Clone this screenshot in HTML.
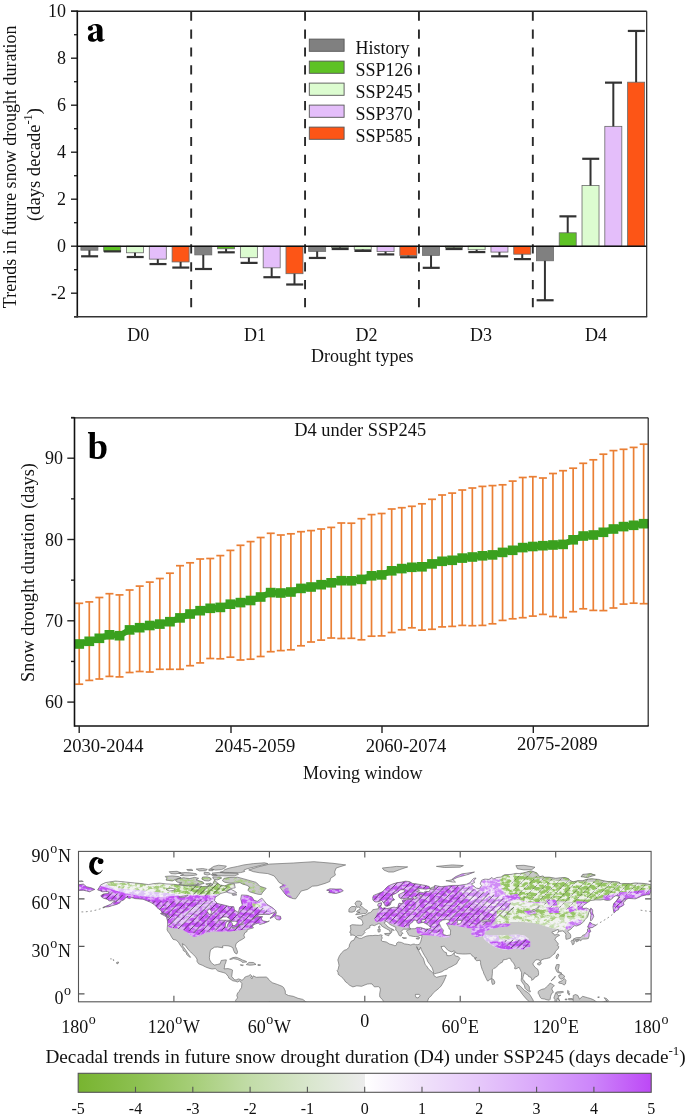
<!DOCTYPE html>
<html><head><meta charset="utf-8"><style>
html,body{margin:0;padding:0;background:#fff;}
svg{display:block;will-change:transform;}
text{font-family:"Liberation Serif", serif;fill:#111;}
.t18{font-size:18px;}
.t17{font-size:18.4px;}
.t19{font-size:19.2px;}
.t16{font-size:16px;}
.lbl{font-size:37px;font-weight:bold;fill:#000;}
.ax{stroke:#222;stroke-width:1.4;}
</style></head><body>
<svg width="685" height="1117" viewBox="0 0 685 1117">
<rect width="685" height="1117" fill="#fff"/>
<g id="pa">
<line x1="74" y1="316.70" x2="77.3" y2="316.70" class="ax"/>
<line x1="71" y1="293.20" x2="77.3" y2="293.20" class="ax"/>
<text x="66" y="299.40" text-anchor="end" class="t18">-2</text>
<line x1="74" y1="269.70" x2="77.3" y2="269.70" class="ax"/>
<line x1="71" y1="246.20" x2="77.3" y2="246.20" class="ax"/>
<text x="66" y="252.40" text-anchor="end" class="t18">0</text>
<line x1="74" y1="222.70" x2="77.3" y2="222.70" class="ax"/>
<line x1="71" y1="199.20" x2="77.3" y2="199.20" class="ax"/>
<text x="66" y="205.40" text-anchor="end" class="t18">2</text>
<line x1="74" y1="175.70" x2="77.3" y2="175.70" class="ax"/>
<line x1="71" y1="152.20" x2="77.3" y2="152.20" class="ax"/>
<text x="66" y="158.40" text-anchor="end" class="t18">4</text>
<line x1="74" y1="128.70" x2="77.3" y2="128.70" class="ax"/>
<line x1="71" y1="105.20" x2="77.3" y2="105.20" class="ax"/>
<text x="66" y="111.40" text-anchor="end" class="t18">6</text>
<line x1="74" y1="81.70" x2="77.3" y2="81.70" class="ax"/>
<line x1="71" y1="58.20" x2="77.3" y2="58.20" class="ax"/>
<text x="66" y="64.40" text-anchor="end" class="t18">8</text>
<line x1="74" y1="34.70" x2="77.3" y2="34.70" class="ax"/>
<line x1="71" y1="11.20" x2="77.3" y2="11.20" class="ax"/>
<text x="66" y="17.40" text-anchor="end" class="t18">10</text>
<line x1="191.18" y1="11.60" x2="191.18" y2="316.8" stroke="#2a2a2a" stroke-width="1.9" stroke-dasharray="9.2 8.7"/>
<line x1="305.06" y1="11.60" x2="305.06" y2="316.8" stroke="#2a2a2a" stroke-width="1.9" stroke-dasharray="9.2 8.7"/>
<line x1="418.94" y1="11.60" x2="418.94" y2="316.8" stroke="#2a2a2a" stroke-width="1.9" stroke-dasharray="9.2 8.7"/>
<line x1="532.82" y1="11.60" x2="532.82" y2="316.8" stroke="#2a2a2a" stroke-width="1.9" stroke-dasharray="9.2 8.7"/>
<rect x="80.90" y="246.20" width="17.0" height="4.00" fill="#808080" stroke="#6a6a6a" stroke-width="0.8"/>
<line x1="89.40" y1="250.19" x2="89.40" y2="256.31" stroke="#333" stroke-width="2"/>
<line x1="81.10" y1="256.31" x2="98.10" y2="256.31" stroke="#333" stroke-width="2.2"/>
<rect x="103.70" y="246.20" width="17.0" height="5.17" fill="#5ec225" stroke="#6a6a6a" stroke-width="0.8"/>
<line x1="112.20" y1="251.37" x2="112.20" y2="251.37" stroke="#333" stroke-width="2"/>
<line x1="103.90" y1="251.37" x2="120.90" y2="251.37" stroke="#333" stroke-width="2.2"/>
<rect x="126.50" y="246.20" width="17.0" height="6.58" fill="#dcfcd0" stroke="#6a6a6a" stroke-width="0.8"/>
<line x1="135.00" y1="252.78" x2="135.00" y2="257.01" stroke="#333" stroke-width="2"/>
<line x1="126.70" y1="257.01" x2="143.70" y2="257.01" stroke="#333" stroke-width="2.2"/>
<rect x="149.30" y="246.20" width="17.0" height="12.93" fill="#e4befa" stroke="#6a6a6a" stroke-width="0.8"/>
<line x1="157.80" y1="259.12" x2="157.80" y2="264.06" stroke="#333" stroke-width="2"/>
<line x1="149.50" y1="264.06" x2="166.50" y2="264.06" stroke="#333" stroke-width="2.2"/>
<rect x="172.10" y="246.20" width="17.0" height="15.75" fill="#fd5516" stroke="#6a6a6a" stroke-width="0.8"/>
<line x1="180.60" y1="261.94" x2="180.60" y2="267.58" stroke="#333" stroke-width="2"/>
<line x1="172.30" y1="267.58" x2="189.30" y2="267.58" stroke="#333" stroke-width="2.2"/>
<rect x="194.78" y="246.20" width="17.0" height="8.69" fill="#808080" stroke="#6a6a6a" stroke-width="0.8"/>
<line x1="203.28" y1="254.89" x2="203.28" y2="269.00" stroke="#333" stroke-width="2"/>
<line x1="194.98" y1="269.00" x2="211.98" y2="269.00" stroke="#333" stroke-width="2.2"/>
<rect x="217.58" y="246.20" width="17.0" height="2.59" fill="#5ec225" stroke="#6a6a6a" stroke-width="0.8"/>
<line x1="226.08" y1="248.78" x2="226.08" y2="252.31" stroke="#333" stroke-width="2"/>
<line x1="217.78" y1="252.31" x2="234.78" y2="252.31" stroke="#333" stroke-width="2.2"/>
<rect x="240.38" y="246.20" width="17.0" height="11.51" fill="#dcfcd0" stroke="#6a6a6a" stroke-width="0.8"/>
<line x1="248.88" y1="257.71" x2="248.88" y2="262.88" stroke="#333" stroke-width="2"/>
<line x1="240.58" y1="262.88" x2="257.58" y2="262.88" stroke="#333" stroke-width="2.2"/>
<rect x="263.18" y="246.20" width="17.0" height="21.62" fill="#e4befa" stroke="#6a6a6a" stroke-width="0.8"/>
<line x1="271.68" y1="267.82" x2="271.68" y2="277.22" stroke="#333" stroke-width="2"/>
<line x1="263.38" y1="277.22" x2="280.38" y2="277.22" stroke="#333" stroke-width="2.2"/>
<rect x="285.98" y="246.20" width="17.0" height="27.50" fill="#fd5516" stroke="#6a6a6a" stroke-width="0.8"/>
<line x1="294.48" y1="273.69" x2="294.48" y2="284.50" stroke="#333" stroke-width="2"/>
<line x1="286.18" y1="284.50" x2="303.18" y2="284.50" stroke="#333" stroke-width="2.2"/>
<rect x="308.66" y="246.20" width="17.0" height="5.17" fill="#808080" stroke="#6a6a6a" stroke-width="0.8"/>
<line x1="317.16" y1="251.37" x2="317.16" y2="257.95" stroke="#333" stroke-width="2"/>
<line x1="308.86" y1="257.95" x2="325.86" y2="257.95" stroke="#333" stroke-width="2.2"/>
<rect x="331.46" y="246.20" width="17.0" height="1.18" fill="#5ec225" stroke="#6a6a6a" stroke-width="0.8"/>
<line x1="339.96" y1="247.38" x2="339.96" y2="249.02" stroke="#333" stroke-width="2"/>
<line x1="331.66" y1="249.02" x2="348.66" y2="249.02" stroke="#333" stroke-width="2.2"/>
<rect x="354.26" y="246.20" width="17.0" height="3.29" fill="#dcfcd0" stroke="#6a6a6a" stroke-width="0.8"/>
<line x1="362.76" y1="249.49" x2="362.76" y2="250.90" stroke="#333" stroke-width="2"/>
<line x1="354.46" y1="250.90" x2="371.46" y2="250.90" stroke="#333" stroke-width="2.2"/>
<rect x="377.06" y="246.20" width="17.0" height="5.41" fill="#e4befa" stroke="#6a6a6a" stroke-width="0.8"/>
<line x1="385.56" y1="251.60" x2="385.56" y2="254.42" stroke="#333" stroke-width="2"/>
<line x1="377.26" y1="254.42" x2="394.26" y2="254.42" stroke="#333" stroke-width="2.2"/>
<rect x="399.86" y="246.20" width="17.0" height="9.40" fill="#fd5516" stroke="#6a6a6a" stroke-width="0.8"/>
<line x1="408.36" y1="255.60" x2="408.36" y2="257.25" stroke="#333" stroke-width="2"/>
<line x1="400.06" y1="257.25" x2="417.06" y2="257.25" stroke="#333" stroke-width="2.2"/>
<rect x="422.54" y="246.20" width="17.0" height="9.16" fill="#808080" stroke="#6a6a6a" stroke-width="0.8"/>
<line x1="431.04" y1="255.36" x2="431.04" y2="267.82" stroke="#333" stroke-width="2"/>
<line x1="422.74" y1="267.82" x2="439.74" y2="267.82" stroke="#333" stroke-width="2.2"/>
<rect x="445.34" y="246.20" width="17.0" height="1.41" fill="#5ec225" stroke="#6a6a6a" stroke-width="0.8"/>
<line x1="453.84" y1="247.61" x2="453.84" y2="249.02" stroke="#333" stroke-width="2"/>
<line x1="445.54" y1="249.02" x2="462.54" y2="249.02" stroke="#333" stroke-width="2.2"/>
<rect x="468.14" y="246.20" width="17.0" height="3.53" fill="#dcfcd0" stroke="#6a6a6a" stroke-width="0.8"/>
<line x1="476.64" y1="249.72" x2="476.64" y2="252.07" stroke="#333" stroke-width="2"/>
<line x1="468.34" y1="252.07" x2="485.34" y2="252.07" stroke="#333" stroke-width="2.2"/>
<rect x="490.94" y="246.20" width="17.0" height="5.88" fill="#e4befa" stroke="#6a6a6a" stroke-width="0.8"/>
<line x1="499.44" y1="252.07" x2="499.44" y2="256.31" stroke="#333" stroke-width="2"/>
<line x1="491.14" y1="256.31" x2="508.14" y2="256.31" stroke="#333" stroke-width="2.2"/>
<rect x="513.74" y="246.20" width="17.0" height="7.99" fill="#fd5516" stroke="#6a6a6a" stroke-width="0.8"/>
<line x1="522.24" y1="254.19" x2="522.24" y2="259.12" stroke="#333" stroke-width="2"/>
<line x1="513.94" y1="259.12" x2="530.94" y2="259.12" stroke="#333" stroke-width="2.2"/>
<rect x="536.42" y="246.20" width="17.0" height="14.57" fill="#808080" stroke="#6a6a6a" stroke-width="0.8"/>
<line x1="544.92" y1="260.77" x2="544.92" y2="300.25" stroke="#333" stroke-width="2"/>
<line x1="536.62" y1="300.25" x2="553.62" y2="300.25" stroke="#333" stroke-width="2.2"/>
<rect x="559.22" y="232.80" width="17.0" height="13.40" fill="#5ec225" stroke="#6a6a6a" stroke-width="0.8"/>
<line x1="567.72" y1="232.80" x2="567.72" y2="216.35" stroke="#333" stroke-width="2"/>
<line x1="559.42" y1="216.35" x2="576.42" y2="216.35" stroke="#333" stroke-width="2.2"/>
<rect x="582.02" y="185.57" width="17.0" height="60.63" fill="#dcfcd0" stroke="#6a6a6a" stroke-width="0.8"/>
<line x1="590.52" y1="185.57" x2="590.52" y2="158.78" stroke="#333" stroke-width="2"/>
<line x1="582.22" y1="158.78" x2="599.22" y2="158.78" stroke="#333" stroke-width="2.2"/>
<rect x="604.82" y="126.35" width="17.0" height="119.85" fill="#e4befa" stroke="#6a6a6a" stroke-width="0.8"/>
<line x1="613.32" y1="126.35" x2="613.32" y2="82.64" stroke="#333" stroke-width="2"/>
<line x1="605.02" y1="82.64" x2="622.02" y2="82.64" stroke="#333" stroke-width="2.2"/>
<rect x="627.62" y="82.17" width="17.0" height="164.03" fill="#fd5516" stroke="#6a6a6a" stroke-width="0.8"/>
<line x1="636.12" y1="82.17" x2="636.12" y2="30.94" stroke="#333" stroke-width="2"/>
<line x1="627.82" y1="30.94" x2="644.82" y2="30.94" stroke="#333" stroke-width="2.2"/>
<line x1="77.3" y1="246.2" x2="646.7" y2="246.2" stroke="#111" stroke-width="1.6"/>
<line x1="71" y1="11.2" x2="646.7" y2="11.2" stroke="#222" stroke-width="1.4"/>
<line x1="646.7" y1="11.2" x2="646.7" y2="316.8" stroke="#222" stroke-width="1.2"/>
<line x1="77.3" y1="10.6" x2="77.3" y2="317.5" stroke="#111" stroke-width="1.6"/>
<line x1="74" y1="316.8" x2="647.2" y2="316.8" stroke="#333" stroke-width="1.6"/>
<text x="138.3" y="340.6" text-anchor="middle" class="t18">D0</text>
<text x="255" y="340.6" text-anchor="middle" class="t18">D1</text>
<text x="366.5" y="340.6" text-anchor="middle" class="t18">D2</text>
<text x="481" y="340.6" text-anchor="middle" class="t18">D3</text>
<text x="596" y="340.6" text-anchor="middle" class="t18">D4</text>
<text x="362.2" y="362" text-anchor="middle" class="t18">Drought types</text>
<text transform="translate(15.5,166.8) rotate(-90)" text-anchor="middle" class="t18">Trends in future snow drought duration</text>
<text transform="translate(39.8,164.5) rotate(-90)" text-anchor="middle" class="t18" style="font-size:18.6px">(days decade<tspan dy="-7.5" font-size="12.5">-1</tspan><tspan dy="7.5">)</tspan></text>
<path fill-rule="evenodd" fill="#000" d="M90.5,26.0 C91.5,24.6 93.3,23.9 95.5,23.9 C99.8,23.9 102.5,25.6 102.5,29.5 L102.5,38.0 C102.5,39.2 102.9,39.6 103.4,39.6 C103.8,39.6 104.1,39.4 104.4,39.0 L104.8,39.5 C104.0,40.9 102.6,41.7 101.0,41.7 C99.2,41.7 97.8,40.8 97.4,39.4 C96.2,40.9 94.4,41.8 92.4,41.8 C89.7,41.8 87.9,40.1 87.9,37.7 C87.9,35.0 90.0,33.6 93.0,32.6 L96.9,31.2 L96.9,29.2 C96.9,26.6 96.0,25.2 94.4,25.2 C93.3,25.2 92.5,25.6 92.0,26.3 Z M96.9,32.6 L94.6,33.6 C93.4,34.2 92.9,35.3 92.9,36.6 C92.9,38.3 93.8,39.3 95.0,39.3 C95.8,39.3 96.5,38.9 96.9,38.3 Z"/><circle cx="90.4" cy="28.2" r="2.5" fill="#000"/>
<rect x="309.3" y="39.10" width="34.8" height="12.2" fill="#808080" stroke="#555" stroke-width="0.9"/>
<text x="355.5" y="53.50" class="t18">History</text>
<rect x="309.3" y="61.10" width="34.8" height="12.2" fill="#5ec225" stroke="#555" stroke-width="0.9"/>
<text x="355.5" y="75.50" class="t18">SSP126</text>
<rect x="309.3" y="83.10" width="34.8" height="12.2" fill="#dcfcd0" stroke="#555" stroke-width="0.9"/>
<text x="355.5" y="97.50" class="t18">SSP245</text>
<rect x="309.3" y="105.10" width="34.8" height="12.2" fill="#e4befa" stroke="#555" stroke-width="0.9"/>
<text x="355.5" y="119.50" class="t18">SSP370</text>
<rect x="309.3" y="127.10" width="34.8" height="12.2" fill="#fd5516" stroke="#555" stroke-width="0.9"/>
<text x="355.5" y="141.50" class="t18">SSP585</text>
</g>
<g id="pb">
<line x1="67.3" y1="702.10" x2="74.5" y2="702.10" class="ax"/>
<text x="63" y="708.30" text-anchor="end" class="t18">60</text>
<line x1="71" y1="661.45" x2="74.5" y2="661.45" class="ax"/>
<line x1="67.3" y1="620.80" x2="74.5" y2="620.80" class="ax"/>
<text x="63" y="627.00" text-anchor="end" class="t18">70</text>
<line x1="71" y1="580.15" x2="74.5" y2="580.15" class="ax"/>
<line x1="67.3" y1="539.50" x2="74.5" y2="539.50" class="ax"/>
<text x="63" y="545.70" text-anchor="end" class="t18">80</text>
<line x1="71" y1="498.85" x2="74.5" y2="498.85" class="ax"/>
<line x1="67.3" y1="458.20" x2="74.5" y2="458.20" class="ax"/>
<text x="63" y="464.40" text-anchor="end" class="t18">90</text>
<line x1="71" y1="417.55" x2="74.5" y2="417.55" class="ax"/>
<line x1="79.20" y1="603.30" x2="79.20" y2="684.20" stroke="#ea7f34" stroke-width="1.7"/>
<line x1="75.20" y1="603.30" x2="83.20" y2="603.30" stroke="#ea7f34" stroke-width="1.7"/>
<line x1="75.20" y1="684.20" x2="83.20" y2="684.20" stroke="#ea7f34" stroke-width="1.7"/>
<line x1="89.28" y1="601.90" x2="89.28" y2="680.40" stroke="#ea7f34" stroke-width="1.7"/>
<line x1="85.28" y1="601.90" x2="93.28" y2="601.90" stroke="#ea7f34" stroke-width="1.7"/>
<line x1="85.28" y1="680.40" x2="93.28" y2="680.40" stroke="#ea7f34" stroke-width="1.7"/>
<line x1="99.36" y1="597.50" x2="99.36" y2="679.00" stroke="#ea7f34" stroke-width="1.7"/>
<line x1="95.36" y1="597.50" x2="103.36" y2="597.50" stroke="#ea7f34" stroke-width="1.7"/>
<line x1="95.36" y1="679.00" x2="103.36" y2="679.00" stroke="#ea7f34" stroke-width="1.7"/>
<line x1="109.44" y1="593.70" x2="109.44" y2="676.40" stroke="#ea7f34" stroke-width="1.7"/>
<line x1="105.44" y1="593.70" x2="113.44" y2="593.70" stroke="#ea7f34" stroke-width="1.7"/>
<line x1="105.44" y1="676.40" x2="113.44" y2="676.40" stroke="#ea7f34" stroke-width="1.7"/>
<line x1="119.52" y1="594.90" x2="119.52" y2="676.90" stroke="#ea7f34" stroke-width="1.7"/>
<line x1="115.52" y1="594.90" x2="123.52" y2="594.90" stroke="#ea7f34" stroke-width="1.7"/>
<line x1="115.52" y1="676.90" x2="123.52" y2="676.90" stroke="#ea7f34" stroke-width="1.7"/>
<line x1="129.60" y1="590.00" x2="129.60" y2="672.50" stroke="#ea7f34" stroke-width="1.7"/>
<line x1="125.60" y1="590.00" x2="133.60" y2="590.00" stroke="#ea7f34" stroke-width="1.7"/>
<line x1="125.60" y1="672.50" x2="133.60" y2="672.50" stroke="#ea7f34" stroke-width="1.7"/>
<line x1="139.68" y1="586.10" x2="139.68" y2="671.50" stroke="#ea7f34" stroke-width="1.7"/>
<line x1="135.68" y1="586.10" x2="143.68" y2="586.10" stroke="#ea7f34" stroke-width="1.7"/>
<line x1="135.68" y1="671.50" x2="143.68" y2="671.50" stroke="#ea7f34" stroke-width="1.7"/>
<line x1="149.76" y1="582.10" x2="149.76" y2="672.00" stroke="#ea7f34" stroke-width="1.7"/>
<line x1="145.76" y1="582.10" x2="153.76" y2="582.10" stroke="#ea7f34" stroke-width="1.7"/>
<line x1="145.76" y1="672.00" x2="153.76" y2="672.00" stroke="#ea7f34" stroke-width="1.7"/>
<line x1="159.84" y1="578.50" x2="159.84" y2="669.30" stroke="#ea7f34" stroke-width="1.7"/>
<line x1="155.84" y1="578.50" x2="163.84" y2="578.50" stroke="#ea7f34" stroke-width="1.7"/>
<line x1="155.84" y1="669.30" x2="163.84" y2="669.30" stroke="#ea7f34" stroke-width="1.7"/>
<line x1="169.92" y1="573.20" x2="169.92" y2="669.30" stroke="#ea7f34" stroke-width="1.7"/>
<line x1="165.92" y1="573.20" x2="173.92" y2="573.20" stroke="#ea7f34" stroke-width="1.7"/>
<line x1="165.92" y1="669.30" x2="173.92" y2="669.30" stroke="#ea7f34" stroke-width="1.7"/>
<line x1="180.00" y1="565.70" x2="180.00" y2="669.30" stroke="#ea7f34" stroke-width="1.7"/>
<line x1="176.00" y1="565.70" x2="184.00" y2="565.70" stroke="#ea7f34" stroke-width="1.7"/>
<line x1="176.00" y1="669.30" x2="184.00" y2="669.30" stroke="#ea7f34" stroke-width="1.7"/>
<line x1="190.08" y1="562.80" x2="190.08" y2="665.70" stroke="#ea7f34" stroke-width="1.7"/>
<line x1="186.08" y1="562.80" x2="194.08" y2="562.80" stroke="#ea7f34" stroke-width="1.7"/>
<line x1="186.08" y1="665.70" x2="194.08" y2="665.70" stroke="#ea7f34" stroke-width="1.7"/>
<line x1="200.16" y1="559.00" x2="200.16" y2="662.90" stroke="#ea7f34" stroke-width="1.7"/>
<line x1="196.16" y1="559.00" x2="204.16" y2="559.00" stroke="#ea7f34" stroke-width="1.7"/>
<line x1="196.16" y1="662.90" x2="204.16" y2="662.90" stroke="#ea7f34" stroke-width="1.7"/>
<line x1="210.24" y1="558.50" x2="210.24" y2="658.50" stroke="#ea7f34" stroke-width="1.7"/>
<line x1="206.24" y1="558.50" x2="214.24" y2="558.50" stroke="#ea7f34" stroke-width="1.7"/>
<line x1="206.24" y1="658.50" x2="214.24" y2="658.50" stroke="#ea7f34" stroke-width="1.7"/>
<line x1="220.32" y1="555.60" x2="220.32" y2="658.80" stroke="#ea7f34" stroke-width="1.7"/>
<line x1="216.32" y1="555.60" x2="224.32" y2="555.60" stroke="#ea7f34" stroke-width="1.7"/>
<line x1="216.32" y1="658.80" x2="224.32" y2="658.80" stroke="#ea7f34" stroke-width="1.7"/>
<line x1="230.41" y1="550.40" x2="230.41" y2="657.20" stroke="#ea7f34" stroke-width="1.7"/>
<line x1="226.41" y1="550.40" x2="234.41" y2="550.40" stroke="#ea7f34" stroke-width="1.7"/>
<line x1="226.41" y1="657.20" x2="234.41" y2="657.20" stroke="#ea7f34" stroke-width="1.7"/>
<line x1="240.49" y1="545.30" x2="240.49" y2="660.00" stroke="#ea7f34" stroke-width="1.7"/>
<line x1="236.49" y1="545.30" x2="244.49" y2="545.30" stroke="#ea7f34" stroke-width="1.7"/>
<line x1="236.49" y1="660.00" x2="244.49" y2="660.00" stroke="#ea7f34" stroke-width="1.7"/>
<line x1="250.57" y1="541.60" x2="250.57" y2="659.20" stroke="#ea7f34" stroke-width="1.7"/>
<line x1="246.57" y1="541.60" x2="254.57" y2="541.60" stroke="#ea7f34" stroke-width="1.7"/>
<line x1="246.57" y1="659.20" x2="254.57" y2="659.20" stroke="#ea7f34" stroke-width="1.7"/>
<line x1="260.65" y1="537.50" x2="260.65" y2="656.50" stroke="#ea7f34" stroke-width="1.7"/>
<line x1="256.65" y1="537.50" x2="264.65" y2="537.50" stroke="#ea7f34" stroke-width="1.7"/>
<line x1="256.65" y1="656.50" x2="264.65" y2="656.50" stroke="#ea7f34" stroke-width="1.7"/>
<line x1="270.73" y1="533.30" x2="270.73" y2="651.70" stroke="#ea7f34" stroke-width="1.7"/>
<line x1="266.73" y1="533.30" x2="274.73" y2="533.30" stroke="#ea7f34" stroke-width="1.7"/>
<line x1="266.73" y1="651.70" x2="274.73" y2="651.70" stroke="#ea7f34" stroke-width="1.7"/>
<line x1="280.81" y1="535.00" x2="280.81" y2="650.60" stroke="#ea7f34" stroke-width="1.7"/>
<line x1="276.81" y1="535.00" x2="284.81" y2="535.00" stroke="#ea7f34" stroke-width="1.7"/>
<line x1="276.81" y1="650.60" x2="284.81" y2="650.60" stroke="#ea7f34" stroke-width="1.7"/>
<line x1="290.89" y1="533.80" x2="290.89" y2="649.80" stroke="#ea7f34" stroke-width="1.7"/>
<line x1="286.89" y1="533.80" x2="294.89" y2="533.80" stroke="#ea7f34" stroke-width="1.7"/>
<line x1="286.89" y1="649.80" x2="294.89" y2="649.80" stroke="#ea7f34" stroke-width="1.7"/>
<line x1="300.97" y1="531.70" x2="300.97" y2="645.80" stroke="#ea7f34" stroke-width="1.7"/>
<line x1="296.97" y1="531.70" x2="304.97" y2="531.70" stroke="#ea7f34" stroke-width="1.7"/>
<line x1="296.97" y1="645.80" x2="304.97" y2="645.80" stroke="#ea7f34" stroke-width="1.7"/>
<line x1="311.05" y1="530.60" x2="311.05" y2="642.00" stroke="#ea7f34" stroke-width="1.7"/>
<line x1="307.05" y1="530.60" x2="315.05" y2="530.60" stroke="#ea7f34" stroke-width="1.7"/>
<line x1="307.05" y1="642.00" x2="315.05" y2="642.00" stroke="#ea7f34" stroke-width="1.7"/>
<line x1="321.13" y1="529.00" x2="321.13" y2="640.10" stroke="#ea7f34" stroke-width="1.7"/>
<line x1="317.13" y1="529.00" x2="325.13" y2="529.00" stroke="#ea7f34" stroke-width="1.7"/>
<line x1="317.13" y1="640.10" x2="325.13" y2="640.10" stroke="#ea7f34" stroke-width="1.7"/>
<line x1="331.21" y1="527.40" x2="331.21" y2="638.00" stroke="#ea7f34" stroke-width="1.7"/>
<line x1="327.21" y1="527.40" x2="335.21" y2="527.40" stroke="#ea7f34" stroke-width="1.7"/>
<line x1="327.21" y1="638.00" x2="335.21" y2="638.00" stroke="#ea7f34" stroke-width="1.7"/>
<line x1="341.29" y1="523.00" x2="341.29" y2="638.50" stroke="#ea7f34" stroke-width="1.7"/>
<line x1="337.29" y1="523.00" x2="345.29" y2="523.00" stroke="#ea7f34" stroke-width="1.7"/>
<line x1="337.29" y1="638.50" x2="345.29" y2="638.50" stroke="#ea7f34" stroke-width="1.7"/>
<line x1="351.37" y1="523.20" x2="351.37" y2="638.30" stroke="#ea7f34" stroke-width="1.7"/>
<line x1="347.37" y1="523.20" x2="355.37" y2="523.20" stroke="#ea7f34" stroke-width="1.7"/>
<line x1="347.37" y1="638.30" x2="355.37" y2="638.30" stroke="#ea7f34" stroke-width="1.7"/>
<line x1="361.45" y1="518.70" x2="361.45" y2="639.80" stroke="#ea7f34" stroke-width="1.7"/>
<line x1="357.45" y1="518.70" x2="365.45" y2="518.70" stroke="#ea7f34" stroke-width="1.7"/>
<line x1="357.45" y1="639.80" x2="365.45" y2="639.80" stroke="#ea7f34" stroke-width="1.7"/>
<line x1="371.53" y1="514.60" x2="371.53" y2="636.20" stroke="#ea7f34" stroke-width="1.7"/>
<line x1="367.53" y1="514.60" x2="375.53" y2="514.60" stroke="#ea7f34" stroke-width="1.7"/>
<line x1="367.53" y1="636.20" x2="375.53" y2="636.20" stroke="#ea7f34" stroke-width="1.7"/>
<line x1="381.61" y1="513.50" x2="381.61" y2="635.90" stroke="#ea7f34" stroke-width="1.7"/>
<line x1="377.61" y1="513.50" x2="385.61" y2="513.50" stroke="#ea7f34" stroke-width="1.7"/>
<line x1="377.61" y1="635.90" x2="385.61" y2="635.90" stroke="#ea7f34" stroke-width="1.7"/>
<line x1="391.69" y1="509.00" x2="391.69" y2="632.50" stroke="#ea7f34" stroke-width="1.7"/>
<line x1="387.69" y1="509.00" x2="395.69" y2="509.00" stroke="#ea7f34" stroke-width="1.7"/>
<line x1="387.69" y1="632.50" x2="395.69" y2="632.50" stroke="#ea7f34" stroke-width="1.7"/>
<line x1="401.77" y1="507.70" x2="401.77" y2="629.80" stroke="#ea7f34" stroke-width="1.7"/>
<line x1="397.77" y1="507.70" x2="405.77" y2="507.70" stroke="#ea7f34" stroke-width="1.7"/>
<line x1="397.77" y1="629.80" x2="405.77" y2="629.80" stroke="#ea7f34" stroke-width="1.7"/>
<line x1="411.85" y1="506.30" x2="411.85" y2="627.80" stroke="#ea7f34" stroke-width="1.7"/>
<line x1="407.85" y1="506.30" x2="415.85" y2="506.30" stroke="#ea7f34" stroke-width="1.7"/>
<line x1="407.85" y1="627.80" x2="415.85" y2="627.80" stroke="#ea7f34" stroke-width="1.7"/>
<line x1="421.93" y1="503.80" x2="421.93" y2="630.10" stroke="#ea7f34" stroke-width="1.7"/>
<line x1="417.93" y1="503.80" x2="425.93" y2="503.80" stroke="#ea7f34" stroke-width="1.7"/>
<line x1="417.93" y1="630.10" x2="425.93" y2="630.10" stroke="#ea7f34" stroke-width="1.7"/>
<line x1="432.01" y1="499.30" x2="432.01" y2="629.30" stroke="#ea7f34" stroke-width="1.7"/>
<line x1="428.01" y1="499.30" x2="436.01" y2="499.30" stroke="#ea7f34" stroke-width="1.7"/>
<line x1="428.01" y1="629.30" x2="436.01" y2="629.30" stroke="#ea7f34" stroke-width="1.7"/>
<line x1="442.09" y1="495.00" x2="442.09" y2="626.90" stroke="#ea7f34" stroke-width="1.7"/>
<line x1="438.09" y1="495.00" x2="446.09" y2="495.00" stroke="#ea7f34" stroke-width="1.7"/>
<line x1="438.09" y1="626.90" x2="446.09" y2="626.90" stroke="#ea7f34" stroke-width="1.7"/>
<line x1="452.17" y1="493.10" x2="452.17" y2="626.40" stroke="#ea7f34" stroke-width="1.7"/>
<line x1="448.17" y1="493.10" x2="456.17" y2="493.10" stroke="#ea7f34" stroke-width="1.7"/>
<line x1="448.17" y1="626.40" x2="456.17" y2="626.40" stroke="#ea7f34" stroke-width="1.7"/>
<line x1="462.25" y1="490.00" x2="462.25" y2="625.40" stroke="#ea7f34" stroke-width="1.7"/>
<line x1="458.25" y1="490.00" x2="466.25" y2="490.00" stroke="#ea7f34" stroke-width="1.7"/>
<line x1="458.25" y1="625.40" x2="466.25" y2="625.40" stroke="#ea7f34" stroke-width="1.7"/>
<line x1="472.33" y1="488.00" x2="472.33" y2="625.70" stroke="#ea7f34" stroke-width="1.7"/>
<line x1="468.33" y1="488.00" x2="476.33" y2="488.00" stroke="#ea7f34" stroke-width="1.7"/>
<line x1="468.33" y1="625.70" x2="476.33" y2="625.70" stroke="#ea7f34" stroke-width="1.7"/>
<line x1="482.41" y1="486.40" x2="482.41" y2="625.40" stroke="#ea7f34" stroke-width="1.7"/>
<line x1="478.41" y1="486.40" x2="486.41" y2="486.40" stroke="#ea7f34" stroke-width="1.7"/>
<line x1="478.41" y1="625.40" x2="486.41" y2="625.40" stroke="#ea7f34" stroke-width="1.7"/>
<line x1="492.49" y1="485.60" x2="492.49" y2="623.80" stroke="#ea7f34" stroke-width="1.7"/>
<line x1="488.49" y1="485.60" x2="496.49" y2="485.60" stroke="#ea7f34" stroke-width="1.7"/>
<line x1="488.49" y1="623.80" x2="496.49" y2="623.80" stroke="#ea7f34" stroke-width="1.7"/>
<line x1="502.57" y1="484.80" x2="502.57" y2="620.40" stroke="#ea7f34" stroke-width="1.7"/>
<line x1="498.57" y1="484.80" x2="506.57" y2="484.80" stroke="#ea7f34" stroke-width="1.7"/>
<line x1="498.57" y1="620.40" x2="506.57" y2="620.40" stroke="#ea7f34" stroke-width="1.7"/>
<line x1="512.66" y1="481.10" x2="512.66" y2="618.80" stroke="#ea7f34" stroke-width="1.7"/>
<line x1="508.66" y1="481.10" x2="516.66" y2="481.10" stroke="#ea7f34" stroke-width="1.7"/>
<line x1="508.66" y1="618.80" x2="516.66" y2="618.80" stroke="#ea7f34" stroke-width="1.7"/>
<line x1="522.74" y1="477.50" x2="522.74" y2="617.70" stroke="#ea7f34" stroke-width="1.7"/>
<line x1="518.74" y1="477.50" x2="526.74" y2="477.50" stroke="#ea7f34" stroke-width="1.7"/>
<line x1="518.74" y1="617.70" x2="526.74" y2="617.70" stroke="#ea7f34" stroke-width="1.7"/>
<line x1="532.82" y1="476.70" x2="532.82" y2="616.10" stroke="#ea7f34" stroke-width="1.7"/>
<line x1="528.82" y1="476.70" x2="536.82" y2="476.70" stroke="#ea7f34" stroke-width="1.7"/>
<line x1="528.82" y1="616.10" x2="536.82" y2="616.10" stroke="#ea7f34" stroke-width="1.7"/>
<line x1="542.90" y1="478.00" x2="542.90" y2="614.40" stroke="#ea7f34" stroke-width="1.7"/>
<line x1="538.90" y1="478.00" x2="546.90" y2="478.00" stroke="#ea7f34" stroke-width="1.7"/>
<line x1="538.90" y1="614.40" x2="546.90" y2="614.40" stroke="#ea7f34" stroke-width="1.7"/>
<line x1="552.98" y1="473.50" x2="552.98" y2="616.50" stroke="#ea7f34" stroke-width="1.7"/>
<line x1="548.98" y1="473.50" x2="556.98" y2="473.50" stroke="#ea7f34" stroke-width="1.7"/>
<line x1="548.98" y1="616.50" x2="556.98" y2="616.50" stroke="#ea7f34" stroke-width="1.7"/>
<line x1="563.06" y1="470.70" x2="563.06" y2="617.60" stroke="#ea7f34" stroke-width="1.7"/>
<line x1="559.06" y1="470.70" x2="567.06" y2="470.70" stroke="#ea7f34" stroke-width="1.7"/>
<line x1="559.06" y1="617.60" x2="567.06" y2="617.60" stroke="#ea7f34" stroke-width="1.7"/>
<line x1="573.14" y1="468.20" x2="573.14" y2="611.70" stroke="#ea7f34" stroke-width="1.7"/>
<line x1="569.14" y1="468.20" x2="577.14" y2="468.20" stroke="#ea7f34" stroke-width="1.7"/>
<line x1="569.14" y1="611.70" x2="577.14" y2="611.70" stroke="#ea7f34" stroke-width="1.7"/>
<line x1="583.22" y1="463.30" x2="583.22" y2="608.80" stroke="#ea7f34" stroke-width="1.7"/>
<line x1="579.22" y1="463.30" x2="587.22" y2="463.30" stroke="#ea7f34" stroke-width="1.7"/>
<line x1="579.22" y1="608.80" x2="587.22" y2="608.80" stroke="#ea7f34" stroke-width="1.7"/>
<line x1="593.30" y1="459.80" x2="593.30" y2="610.40" stroke="#ea7f34" stroke-width="1.7"/>
<line x1="589.30" y1="459.80" x2="597.30" y2="459.80" stroke="#ea7f34" stroke-width="1.7"/>
<line x1="589.30" y1="610.40" x2="597.30" y2="610.40" stroke="#ea7f34" stroke-width="1.7"/>
<line x1="603.38" y1="454.20" x2="603.38" y2="610.60" stroke="#ea7f34" stroke-width="1.7"/>
<line x1="599.38" y1="454.20" x2="607.38" y2="454.20" stroke="#ea7f34" stroke-width="1.7"/>
<line x1="599.38" y1="610.60" x2="607.38" y2="610.60" stroke="#ea7f34" stroke-width="1.7"/>
<line x1="613.46" y1="450.60" x2="613.46" y2="608.00" stroke="#ea7f34" stroke-width="1.7"/>
<line x1="609.46" y1="450.60" x2="617.46" y2="450.60" stroke="#ea7f34" stroke-width="1.7"/>
<line x1="609.46" y1="608.00" x2="617.46" y2="608.00" stroke="#ea7f34" stroke-width="1.7"/>
<line x1="623.54" y1="449.30" x2="623.54" y2="604.10" stroke="#ea7f34" stroke-width="1.7"/>
<line x1="619.54" y1="449.30" x2="627.54" y2="449.30" stroke="#ea7f34" stroke-width="1.7"/>
<line x1="619.54" y1="604.10" x2="627.54" y2="604.10" stroke="#ea7f34" stroke-width="1.7"/>
<line x1="633.62" y1="447.40" x2="633.62" y2="603.20" stroke="#ea7f34" stroke-width="1.7"/>
<line x1="629.62" y1="447.40" x2="637.62" y2="447.40" stroke="#ea7f34" stroke-width="1.7"/>
<line x1="629.62" y1="603.20" x2="637.62" y2="603.20" stroke="#ea7f34" stroke-width="1.7"/>
<line x1="643.70" y1="444.20" x2="643.70" y2="603.70" stroke="#ea7f34" stroke-width="1.7"/>
<line x1="639.70" y1="444.20" x2="647.70" y2="444.20" stroke="#ea7f34" stroke-width="1.7"/>
<line x1="639.70" y1="603.70" x2="647.70" y2="603.70" stroke="#ea7f34" stroke-width="1.7"/>
<polyline points="79.20,644.00 89.28,641.30 99.36,638.30 109.44,634.80 119.52,635.70 129.60,629.90 139.68,627.70 149.76,625.50 159.84,624.10 169.92,621.70 180.00,617.90 190.08,614.00 200.16,610.70 210.24,608.30 220.32,607.40 230.41,604.20 240.49,602.60 250.57,600.50 260.65,597.00 270.73,592.60 280.81,593.00 290.89,592.00 300.97,588.40 311.05,587.00 321.13,584.70 331.21,582.80 341.29,580.70 351.37,580.80 361.45,579.40 371.53,575.80 381.61,574.90 391.69,570.80 401.77,568.60 411.85,567.30 421.93,566.80 432.01,563.90 442.09,561.30 452.17,560.30 462.25,558.10 472.33,557.00 482.41,555.80 492.49,554.90 502.57,552.40 512.66,550.30 522.74,547.60 532.82,546.50 542.90,545.70 552.98,545.00 563.06,544.40 573.14,539.80 583.22,536.00 593.30,535.00 603.38,532.30 613.46,529.00 623.54,526.60 633.62,525.30 643.70,523.70" fill="none" stroke="#3aa01e" stroke-width="6"/>
<rect x="74.30" y="639.20" width="9.8" height="9.6" fill="#3aa01e"/>
<rect x="84.38" y="636.50" width="9.8" height="9.6" fill="#3aa01e"/>
<rect x="94.46" y="633.50" width="9.8" height="9.6" fill="#3aa01e"/>
<rect x="104.54" y="630.00" width="9.8" height="9.6" fill="#3aa01e"/>
<rect x="114.62" y="630.90" width="9.8" height="9.6" fill="#3aa01e"/>
<rect x="124.70" y="625.10" width="9.8" height="9.6" fill="#3aa01e"/>
<rect x="134.78" y="622.90" width="9.8" height="9.6" fill="#3aa01e"/>
<rect x="144.86" y="620.70" width="9.8" height="9.6" fill="#3aa01e"/>
<rect x="154.94" y="619.30" width="9.8" height="9.6" fill="#3aa01e"/>
<rect x="165.02" y="616.90" width="9.8" height="9.6" fill="#3aa01e"/>
<rect x="175.10" y="613.10" width="9.8" height="9.6" fill="#3aa01e"/>
<rect x="185.18" y="609.20" width="9.8" height="9.6" fill="#3aa01e"/>
<rect x="195.26" y="605.90" width="9.8" height="9.6" fill="#3aa01e"/>
<rect x="205.34" y="603.50" width="9.8" height="9.6" fill="#3aa01e"/>
<rect x="215.42" y="602.60" width="9.8" height="9.6" fill="#3aa01e"/>
<rect x="225.51" y="599.40" width="9.8" height="9.6" fill="#3aa01e"/>
<rect x="235.59" y="597.80" width="9.8" height="9.6" fill="#3aa01e"/>
<rect x="245.67" y="595.70" width="9.8" height="9.6" fill="#3aa01e"/>
<rect x="255.75" y="592.20" width="9.8" height="9.6" fill="#3aa01e"/>
<rect x="265.83" y="587.80" width="9.8" height="9.6" fill="#3aa01e"/>
<rect x="275.91" y="588.20" width="9.8" height="9.6" fill="#3aa01e"/>
<rect x="285.99" y="587.20" width="9.8" height="9.6" fill="#3aa01e"/>
<rect x="296.07" y="583.60" width="9.8" height="9.6" fill="#3aa01e"/>
<rect x="306.15" y="582.20" width="9.8" height="9.6" fill="#3aa01e"/>
<rect x="316.23" y="579.90" width="9.8" height="9.6" fill="#3aa01e"/>
<rect x="326.31" y="578.00" width="9.8" height="9.6" fill="#3aa01e"/>
<rect x="336.39" y="575.90" width="9.8" height="9.6" fill="#3aa01e"/>
<rect x="346.47" y="576.00" width="9.8" height="9.6" fill="#3aa01e"/>
<rect x="356.55" y="574.60" width="9.8" height="9.6" fill="#3aa01e"/>
<rect x="366.63" y="571.00" width="9.8" height="9.6" fill="#3aa01e"/>
<rect x="376.71" y="570.10" width="9.8" height="9.6" fill="#3aa01e"/>
<rect x="386.79" y="566.00" width="9.8" height="9.6" fill="#3aa01e"/>
<rect x="396.87" y="563.80" width="9.8" height="9.6" fill="#3aa01e"/>
<rect x="406.95" y="562.50" width="9.8" height="9.6" fill="#3aa01e"/>
<rect x="417.03" y="562.00" width="9.8" height="9.6" fill="#3aa01e"/>
<rect x="427.11" y="559.10" width="9.8" height="9.6" fill="#3aa01e"/>
<rect x="437.19" y="556.50" width="9.8" height="9.6" fill="#3aa01e"/>
<rect x="447.27" y="555.50" width="9.8" height="9.6" fill="#3aa01e"/>
<rect x="457.35" y="553.30" width="9.8" height="9.6" fill="#3aa01e"/>
<rect x="467.43" y="552.20" width="9.8" height="9.6" fill="#3aa01e"/>
<rect x="477.51" y="551.00" width="9.8" height="9.6" fill="#3aa01e"/>
<rect x="487.59" y="550.10" width="9.8" height="9.6" fill="#3aa01e"/>
<rect x="497.68" y="547.60" width="9.8" height="9.6" fill="#3aa01e"/>
<rect x="507.76" y="545.50" width="9.8" height="9.6" fill="#3aa01e"/>
<rect x="517.84" y="542.80" width="9.8" height="9.6" fill="#3aa01e"/>
<rect x="527.92" y="541.70" width="9.8" height="9.6" fill="#3aa01e"/>
<rect x="538.00" y="540.90" width="9.8" height="9.6" fill="#3aa01e"/>
<rect x="548.08" y="540.20" width="9.8" height="9.6" fill="#3aa01e"/>
<rect x="558.16" y="539.60" width="9.8" height="9.6" fill="#3aa01e"/>
<rect x="568.24" y="535.00" width="9.8" height="9.6" fill="#3aa01e"/>
<rect x="578.32" y="531.20" width="9.8" height="9.6" fill="#3aa01e"/>
<rect x="588.40" y="530.20" width="9.8" height="9.6" fill="#3aa01e"/>
<rect x="598.48" y="527.50" width="9.8" height="9.6" fill="#3aa01e"/>
<rect x="608.56" y="524.20" width="9.8" height="9.6" fill="#3aa01e"/>
<rect x="618.64" y="521.80" width="9.8" height="9.6" fill="#3aa01e"/>
<rect x="628.72" y="520.50" width="9.8" height="9.6" fill="#3aa01e"/>
<rect x="638.80" y="518.90" width="9.8" height="9.6" fill="#3aa01e"/>
<line x1="71" y1="417.8" x2="648.2" y2="417.8" stroke="#222" stroke-width="1.3"/>
<line x1="648.2" y1="417.8" x2="648.2" y2="726.0" stroke="#222" stroke-width="1.2"/>
<line x1="74.5" y1="417.2" x2="74.5" y2="726.7" stroke="#111" stroke-width="1.6"/>
<line x1="74.5" y1="726.0" x2="648.7" y2="726.0" stroke="#111" stroke-width="1.6"/>
<line x1="79.2" y1="726.0" x2="79.2" y2="733" class="ax"/>
<text x="62.900000000000006" y="751.5" class="t18" style="font-size:18.6px">2030-2044</text>
<line x1="231" y1="726.0" x2="231" y2="733" class="ax"/>
<text x="214.7" y="751.5" class="t18" style="font-size:18.6px">2045-2059</text>
<line x1="382" y1="726.0" x2="382" y2="733" class="ax"/>
<text x="365.7" y="752.3" class="t18" style="font-size:18.6px">2060-2074</text>
<line x1="533.3" y1="726.0" x2="533.3" y2="733" class="ax"/>
<text x="517.0" y="750.0" class="t18" style="font-size:18.6px">2075-2089</text>
<text x="362.8" y="778.5" text-anchor="middle" class="t18">Moving window</text>
<text transform="translate(33.8,572.5) rotate(-90)" text-anchor="middle" class="t18" style="font-size:18.3px">Snow drought duration (days)</text>
<text x="360.2" y="435.7" text-anchor="middle" class="t17">D4 under SSP245</text>
<text x="87.6" y="459.3" class="lbl">b</text>
</g>
<clipPath id="mclip"><rect x="78.5" y="851.4" width="572.6" height="150.4"/></clipPath>
<g clip-path="url(#mclip)">
<line x1="78.5" y1="898.9" x2="84.5" y2="898.9" stroke="#555" stroke-width="1.1"/>
<line x1="645.1" y1="898.9" x2="651.1" y2="898.9" stroke="#555" stroke-width="1.1"/>
<line x1="78.5" y1="946.4" x2="84.5" y2="946.4" stroke="#555" stroke-width="1.1"/>
<line x1="645.1" y1="946.4" x2="651.1" y2="946.4" stroke="#555" stroke-width="1.1"/>
<line x1="78.5" y1="993.9" x2="84.5" y2="993.9" stroke="#555" stroke-width="1.1"/>
<line x1="645.1" y1="993.9" x2="651.1" y2="993.9" stroke="#555" stroke-width="1.1"/>
<line x1="173.9" y1="851.4" x2="173.9" y2="857.4" stroke="#555" stroke-width="1.1"/>
<line x1="173.9" y1="995.8" x2="173.9" y2="1001.8" stroke="#555" stroke-width="1.1"/>
<line x1="269.4" y1="851.4" x2="269.4" y2="857.4" stroke="#555" stroke-width="1.1"/>
<line x1="269.4" y1="995.8" x2="269.4" y2="1001.8" stroke="#555" stroke-width="1.1"/>
<line x1="364.8" y1="851.4" x2="364.8" y2="857.4" stroke="#555" stroke-width="1.1"/>
<line x1="364.8" y1="995.8" x2="364.8" y2="1001.8" stroke="#555" stroke-width="1.1"/>
<line x1="460.2" y1="851.4" x2="460.2" y2="857.4" stroke="#555" stroke-width="1.1"/>
<line x1="460.2" y1="995.8" x2="460.2" y2="1001.8" stroke="#555" stroke-width="1.1"/>
<line x1="555.7" y1="851.4" x2="555.7" y2="857.4" stroke="#555" stroke-width="1.1"/>
<line x1="555.7" y1="995.8" x2="555.7" y2="1001.8" stroke="#555" stroke-width="1.1"/>
<clipPath id="lclip"><path d="M97.6,890.0L100.8,884.8L105.5,882.6L115.4,881.0L123.0,881.8L134.2,882.9L140.5,883.5L148.5,884.6L153.3,883.7L159.6,883.1L166.0,883.9L173.9,884.3L181.9,885.4L189.8,885.9L196.2,885.3L202.6,886.5L208.9,886.2L212.1,885.4L214.5,880.2L217.7,883.1L220.1,885.0L224.8,885.8L229.6,883.9L234.4,883.7L235.2,887.8L230.4,888.6L227.2,891.8L220.9,893.4L215.3,897.3L214.5,900.5L217.7,903.6L224.8,905.2L229.6,906.5L233.9,906.8L234.4,910.1L238.4,912.4L239.5,907.6L242.3,905.2L241.5,902.1L240.7,898.9L241.5,894.9L247.1,895.3L251.9,897.0L254.3,900.5L257.4,901.3L261.4,898.4L262.2,898.4L267.0,904.4L271.0,906.8L273.3,908.4L276.2,911.1L274.1,912.4L269.4,914.4L263.0,914.4L259.0,914.7L255.1,917.1L252.2,919.5L256.6,916.8L262.5,916.5L261.4,918.7L262.7,920.8L267.5,921.7L269.4,920.9L263.8,923.4L259.8,924.5L258.2,923.0L253.5,924.7L252.5,926.4L253.5,927.9L250.3,928.7L247.1,929.8L247.1,931.4L244.7,932.9L243.9,935.3L244.7,937.7L242.3,939.3L239.1,941.0L236.0,943.7L235.5,946.4L236.8,949.6L237.6,951.9L236.8,954.0L234.9,953.0L233.6,950.4L232.8,947.7L230.4,946.4L228.0,945.8L224.8,945.6L222.4,946.1L222.9,947.8L220.9,947.5L217.7,947.0L214.5,947.2L210.5,949.9L209.9,953.0L209.4,957.5L209.7,959.9L211.3,962.5L212.9,964.1L214.5,965.1L217.7,964.4L220.1,963.8L220.9,961.4L221.2,960.5L224.8,959.9L226.4,959.9L225.6,963.0L224.8,964.6L224.4,967.8L224.0,968.9L228.0,968.6L231.2,969.4L232.5,970.1L232.0,974.1L231.7,976.5L234.4,979.6L236.0,980.0L238.4,978.9L240.7,979.6L241.9,980.3L243.9,978.9L244.7,977.3L246.3,976.5L248.7,975.8L250.3,974.6L251.9,976.0L250.9,977.3L251.9,978.9L253.1,975.8L256.3,977.3L259.8,977.1L263.0,977.1L266.2,977.0L267.8,978.1L269.4,980.4L272.5,982.8L277.3,984.4L282.1,986.3L283.7,987.6L285.3,991.0L285.3,993.9L288.5,995.5L293.2,996.3L298.0,998.3L302.8,999.4L305.9,1001.8L308.3,1003.4L309.1,1008.1L234.4,1008.1L236.0,1003.4L235.6,1000.2L237.6,997.9L236.8,995.5L237.6,993.1L239.1,991.5L239.9,989.9L241.5,987.6L241.9,983.6L240.7,982.0L239.9,980.8L237.6,982.0L235.2,981.2L232.8,980.8L228.8,978.1L228.3,976.5L225.6,973.3L223.2,972.5L220.1,971.7L217.7,970.9L215.3,968.6L212.1,969.0L208.9,968.2L205.7,967.0L202.6,965.4L198.6,963.8L197.0,961.4L197.0,959.1L195.4,956.7L193.0,954.3L190.6,951.9L188.2,949.6L185.4,945.6L182.4,943.7L183.0,946.4L185.4,949.6L187.5,952.7L189.4,955.6L190.6,957.3L189.5,957.0L186.7,954.6L186.3,952.7L183.2,950.4L183.0,948.8L180.6,945.8L178.5,942.4L176.3,940.1L173.0,939.3L170.9,935.9L170.0,934.0L167.9,931.4L167.1,929.8L167.3,927.4L167.6,924.2L167.6,921.1L166.5,917.4L169.2,917.1L169.2,915.8L166.0,913.9L162.0,913.1L161.2,910.8L158.0,908.4L156.4,906.8L154.1,904.4L150.1,902.1L146.9,900.8L142.9,899.2L138.9,898.9L135.0,898.6L131.8,897.6L129.4,898.6L126.2,897.3L123.4,900.2L120.6,901.3L119.9,902.9L116.7,904.4L112.7,905.5L108.7,906.8L104.7,907.1L102.7,907.6L107.1,905.7L110.3,904.4L112.7,902.4L115.1,901.0L112.7,900.8L109.5,901.0L107.1,899.2L103.9,898.4L101.9,897.3L100.8,895.7L103.2,894.0L108.7,893.4L108.7,891.8L105.5,891.6L102.4,891.8L100.0,890.7Z M224.0,878.3L229.6,877.4L237.6,877.2L243.9,878.9L250.3,880.7L255.8,882.3L258.2,884.3L259.8,886.2L266.2,888.3L263.8,891.0L262.2,892.9L261.4,894.5L258.2,894.3L253.5,893.0L249.5,891.8L247.9,890.2L248.7,888.6L249.5,887.0L247.1,885.4L242.3,883.9L239.9,882.6L236.0,883.1L229.6,883.1L224.8,882.3L222.4,880.7Z M220.1,872.3L223.2,871.2L224.8,869.6L229.6,868.0L237.6,866.4L243.9,864.9L253.5,863.6L264.6,862.8L267.8,863.6L261.4,865.2L253.5,867.2L247.1,868.8L243.9,870.1L244.7,871.5L240.7,872.6L234.4,873.1L224.8,873.1Z M210.5,868.5L213.7,866.4L218.5,865.2L226.4,866.1L224.8,868.0L221.7,869.6L215.3,870.1Z M212.1,873.1L220.1,872.3L229.6,872.5L237.6,873.1L238.4,874.4L234.4,875.8L224.8,875.9L218.5,875.6L213.7,874.8Z M175.5,880.2L177.9,878.8L183.5,877.8L189.8,878.5L194.6,877.4L198.6,878.3L196.2,879.9L202.6,881.8L204.2,883.4L199.4,884.6L193.0,885.0L185.1,885.4L178.7,884.3L181.9,882.8L177.1,882.1Z M165.2,876.4L172.3,875.9L178.7,876.6L181.1,877.8L175.5,879.4L172.3,881.0L166.0,880.1L166.8,878.3Z M178.7,873.1L185.1,872.5L189.8,872.8L196.2,873.7L197.0,874.8L193.0,875.5L186.7,875.9L180.3,875.5L183.5,874.4Z M202.6,877.0L207.3,876.9L210.5,878.0L211.3,879.4L208.9,881.0L204.9,880.7L201.8,879.1Z M212.9,876.9L220.1,876.9L221.7,878.0L217.7,879.9L214.5,879.6L212.9,878.3Z M204.2,872.3L208.9,872.6L210.5,874.2L207.3,875.1L204.2,874.2Z M227.2,890.2L231.2,889.4L235.2,891.5L236.8,892.9L232.8,893.4L228.8,892.9L226.4,891.8Z M169.2,871.7L177.1,871.3L181.1,872.9L175.5,873.9L170.8,873.6Z M211.3,874.5L216.1,874.4L216.9,875.6L212.1,875.6Z M196.2,869.1L202.6,868.5L207.3,869.4L205.7,870.7L199.4,870.9Z M208.9,869.1L213.7,869.6L212.9,870.7L208.9,870.6Z M205.7,883.9L210.5,883.2L212.9,884.6L208.9,885.6Z M232.0,894.1L236.0,894.3L236.8,894.9L232.8,895.4Z M186.7,869.6L191.4,869.3L193.0,870.4L188.2,870.7Z M270.3,918.5L275.7,915.4L276.4,912.2L273.8,913.6L272.2,916.3L270.3,917.6Z M276.5,915.5L280.5,916.3L281.0,918.7L279.7,920.1L276.5,919.5L274.9,917.4Z M160.4,913.5L166.0,914.3L168.7,917.3L166.0,916.6Z M248.7,869.9L258.2,866.9L269.4,864.1L293.2,863.0L313.9,861.7L333.0,863.3L345.7,864.9L336.2,868.0L334.6,872.0L335.4,875.1L330.6,878.3L329.8,881.5L325.0,883.4L317.1,885.8L312.3,886.2L307.5,889.4L301.2,891.0L298.0,895.7L295.6,898.9L293.2,898.6L290.0,897.6L286.9,896.0L284.5,893.4L282.1,890.2L279.7,887.0L283.7,885.0L278.9,882.3L277.3,879.9L274.1,875.9L267.8,873.6L259.8,872.8L253.5,871.7Z M326.6,890.2L329.8,888.8L336.2,889.1L340.9,888.9L343.3,890.7L340.9,892.1L336.2,893.5L331.4,892.9L328.7,892.6L329.8,891.1Z M356.8,901.1L360.0,901.1L361.6,902.7L361.9,904.4L360.0,905.2L362.3,906.8L364.0,908.4L365.1,909.2L367.5,910.5L366.9,912.7L365.6,913.5L363.2,913.6L359.2,914.3L355.7,914.7L357.6,912.7L360.0,912.4L357.6,912.0L356.5,911.7L358.1,910.0L360.0,909.5L360.0,908.4L359.2,907.1L356.8,907.3L356.1,905.2L354.9,904.0L355.6,902.4Z M355.3,906.5L356.1,908.1L355.3,910.0L354.8,911.2L352.1,912.2L348.9,912.0L348.9,909.5L349.7,908.1L351.8,906.5Z M382.3,868.0L390.2,867.2L396.6,866.4L407.7,866.9L399.8,869.6L393.4,872.0L388.7,872.0L383.9,870.1Z M445.9,880.7L452.3,882.0L455.5,882.1L452.3,879.1L455.5,876.7L461.8,873.9L469.8,872.8L474.5,872.0L468.2,874.4L457.1,877.5L453.9,879.1L449.1,880.4Z M517.5,868.8L523.9,869.9L531.8,869.6L535.0,867.2L523.9,865.3L515.9,865.6Z M436.4,866.4L452.3,864.9L463.4,865.6L460.2,867.2L444.3,867.5Z M581.1,876.7L587.5,877.5L595.4,875.1L590.7,873.6L582.7,874.4Z M78.5,881.2L81.7,880.7L83.3,881.5L80.1,881.6Z M648.7,881.2L651.1,880.7L651.1,881.6Z M78.5,884.8L83.3,884.0L86.5,886.7L91.2,887.8L94.9,889.4L92.8,890.2L89.6,891.8L86.5,891.0L83.3,890.2L78.5,890.5Z M651.1,884.8L647.9,884.0L643.1,883.4L638.4,883.1L635.2,882.9L630.4,883.7L624.1,883.5L620.9,883.9L619.3,882.3L614.5,881.5L608.2,881.6L603.4,880.7L598.6,879.4L592.2,878.8L587.5,879.1L582.7,880.7L577.9,880.7L573.2,881.8L570.0,880.4L568.4,878.6L565.2,877.5L560.4,877.8L555.7,878.3L549.3,877.2L544.5,877.2L542.9,875.9L539.8,876.7L536.6,872.8L531.8,871.0L530.7,870.9L523.9,872.8L519.1,873.6L515.9,873.4L511.1,874.4L504.8,874.7L502.4,875.9L501.6,877.0L496.8,877.5L493.6,879.1L492.0,877.5L488.9,879.4L484.9,879.1L481.7,880.2L480.1,883.9L481.7,885.4L479.3,888.6L476.1,888.1L473.0,885.4L471.4,883.9L474.5,882.6L473.8,880.7L476.1,878.0L473.8,878.3L471.4,880.7L470.6,882.3L466.6,884.2L461.0,885.0L458.6,885.4L452.3,885.4L449.1,885.8L441.1,886.7L434.8,885.4L434.0,887.8L430.0,888.6L429.2,886.5L425.2,885.4L417.3,884.0L412.5,883.4L409.3,881.5L405.4,881.2L401.4,882.1L396.6,882.8L391.8,884.3L388.7,885.8L387.1,887.0L384.7,889.4L383.1,891.3L380.7,892.6L377.5,893.8L373.5,895.4L372.8,897.3L372.8,899.7L374.0,901.3L375.9,902.1L378.3,901.8L381.5,900.5L383.1,902.1L384.7,904.4L385.2,906.0L387.4,906.2L390.2,904.9L391.0,902.9L391.5,901.3L394.7,899.7L392.6,897.8L392.3,894.9L395.8,893.4L399.0,891.3L400.6,889.7L404.6,890.0L405.0,891.3L402.2,892.9L398.7,894.5L399.0,897.3L401.4,898.9L406.2,898.3L411.7,898.7L410.1,899.5L403.0,899.9L402.2,900.8L403.3,903.2L401.4,903.6L399.0,903.2L398.2,905.2L398.5,906.5L395.8,907.8L394.2,907.1L390.2,907.9L387.1,908.6L384.7,907.8L382.3,908.4L380.7,906.8L381.5,904.4L381.5,902.7L378.3,903.5L377.5,905.2L378.5,906.8L378.8,908.6L375.9,909.2L372.8,909.7L372.0,911.1L370.4,912.5L368.0,913.1L367.3,914.4L364.8,915.2L362.9,915.7L361.9,915.2L362.4,916.9L360.0,916.6L357.3,917.3L358.1,918.2L360.8,919.0L362.4,921.1L362.9,923.4L362.4,925.0L360.0,925.2L356.8,925.0L352.1,924.7L350.0,925.8L350.6,927.4L350.8,929.8L349.7,932.5L350.8,932.9L350.8,934.5L350.5,935.3L352.9,935.0L354.8,935.6L355.9,936.9L357.6,935.8L361.6,935.8L364.0,933.7L365.1,932.6L364.3,931.4L366.1,929.5L369.9,927.6L369.9,925.7L372.0,925.0L374.3,925.7L376.7,924.5L378.8,923.6L381.0,924.4L381.5,925.8L383.9,927.4L386.3,928.7L389.5,930.4L390.2,932.5L389.8,933.7L390.4,933.7L391.8,932.1L391.8,929.8L394.2,930.4L393.4,929.6L390.2,928.2L387.1,926.3L386.4,924.9L384.4,923.4L384.4,922.2L386.6,921.5L387.9,922.3L389.5,924.2L392.6,925.8L395.8,927.4L395.8,929.0L395.7,930.1L397.4,931.4L398.2,933.3L399.3,935.6L401.1,936.1L401.7,933.9L403.0,933.4L401.1,931.4L402.2,930.2L403.8,929.1L406.2,929.3L410.1,928.7L410.9,928.7L409.3,927.4L409.3,925.0L410.6,923.4L412.5,922.2L413.6,920.3L415.2,920.1L417.3,921.1L416.5,922.0L418.1,923.4L420.5,923.0L422.9,922.2L421.3,921.4L421.3,920.3L425.2,919.3L426.0,920.1L424.4,921.4L423.2,922.3L424.4,923.1L426.8,924.2L428.4,925.2L430.8,927.4L431.0,928.2L428.4,929.0L425.2,929.1L422.1,927.9L420.5,927.4L417.3,927.4L414.9,928.7L411.2,928.8L408.5,929.8L406.9,930.4L406.5,931.5L407.7,932.9L408.2,934.5L409.3,935.6L410.9,935.9L413.3,936.4L415.7,936.6L418.1,936.6L419.7,935.6L422.1,935.6L421.7,937.7L421.3,939.3L420.8,941.3L419.8,943.5L419.4,944.3L417.3,944.7L415.7,944.7L414.1,944.0L412.5,944.3L410.9,945.0L407.7,944.3L404.6,943.9L401.4,942.4L398.2,942.0L396.6,943.2L396.6,944.8L395.0,945.9L393.4,945.1L389.5,944.0L386.3,942.0L382.3,941.3L381.0,940.1L382.3,938.0L381.5,936.1L382.3,935.3L380.7,934.8L378.3,935.5L375.1,935.3L372.8,935.6L369.6,935.6L366.4,936.1L363.2,937.4L361.6,938.3L359.2,938.2L356.4,937.1L355.3,937.2L354.0,940.1L351.3,941.2L349.4,944.8L349.2,947.2L346.5,949.6L344.1,950.4L341.7,952.7L339.4,955.9L337.8,959.9L338.6,963.0L339.0,965.4L338.1,969.4L337.1,970.6L338.1,972.5L338.2,974.4L340.1,975.7L341.7,977.3L343.6,978.9L345.7,982.0L347.3,983.1L349.7,985.3L352.9,986.9L356.8,985.8L361.6,986.3L364.8,985.0L367.2,984.1L369.6,983.8L372.0,983.9L374.3,986.8L375.9,986.8L378.3,986.6L379.9,987.7L380.4,989.9L379.9,992.3L379.6,994.7L379.9,997.1L382.3,999.4L383.6,1001.5L384.7,1003.4L384.7,1008.1L426.8,1008.1L426.8,1003.4L427.3,1001.8L428.7,998.0L430.8,996.3L433.2,993.1L435.6,991.0L438.8,988.4L441.1,986.0L443.5,982.0L445.6,977.3L446.4,975.2L444.3,975.7L441.1,976.2L436.4,977.3L434.0,975.7L433.5,973.8L432.4,972.5L430.8,970.9L428.4,968.9L426.8,966.2L425.2,964.6L424.0,960.6L423.3,958.3L421.4,955.9L419.7,952.7L418.1,949.9L416.7,946.6L417.3,948.8L419.4,949.9L420.5,947.2L421.3,949.6L422.9,952.7L424.4,955.4L426.8,959.1L427.6,961.4L430.0,964.6L432.1,967.8L432.9,970.1L433.7,973.3L434.8,973.8L436.4,973.3L438.8,972.7L441.9,971.7L444.3,970.1L447.5,968.9L448.3,967.8L450.7,967.0L453.1,965.7L455.0,964.6L456.6,963.8L457.8,961.4L459.9,958.4L458.2,956.5L455.5,956.1L454.3,954.5L454.5,952.3L453.1,953.5L451.5,955.4L449.1,955.7L446.9,955.6L446.4,952.6L444.6,952.1L443.5,950.8L441.9,948.8L441.1,946.4L441.9,946.6L444.3,946.1L445.9,948.3L448.3,950.5L451.5,951.9L454.3,950.8L455.9,953.0L458.6,953.7L462.6,954.0L465.8,954.0L470.6,953.7L472.2,955.9L473.8,957.0L475.3,958.3L476.5,957.6L474.5,958.6L476.6,960.8L480.1,960.2L480.6,962.2L480.6,964.0L481.4,967.0L482.2,969.4L483.3,971.7L483.8,973.6L484.9,975.7L486.0,978.1L487.3,980.8L488.2,981.1L489.2,979.8L490.8,979.2L491.9,977.6L492.4,973.3L492.4,969.8L493.6,968.6L495.7,967.6L498.4,965.1L500.0,963.3L502.4,962.2L503.2,959.9L505.6,959.5L507.2,959.1L508.7,958.3L510.3,958.3L511.1,960.2L511.9,961.4L513.5,963.0L515.1,966.2L514.6,968.6L515.9,968.9L519.1,967.3L520.4,970.1L521.5,972.5L521.5,977.3L521.2,980.4L521.5,981.2L522.7,983.1L524.3,985.2L525.1,988.4L526.2,989.5L529.4,991.8L530.5,991.7L529.4,989.5L529.3,986.8L527.4,984.1L525.4,983.0L524.2,980.6L522.6,979.3L523.1,976.8L523.9,974.1L524.7,972.5L525.4,973.8L527.8,974.9L528.6,976.5L531.0,977.4L531.8,979.6L531.5,980.3L533.7,979.2L534.7,977.4L537.4,976.2L538.5,974.9L538.6,972.5L537.9,969.5L535.3,967.5L533.4,965.1L532.9,963.8L534.2,961.8L535.8,959.9L537.4,959.7L539.4,960.0L540.6,961.8L541.4,959.9L544.5,958.8L546.4,958.6L550.1,957.6L552.5,955.1L554.9,953.4L555.3,951.8L556.5,950.4L558.4,948.3L558.8,946.4L557.3,945.3L558.5,944.0L556.5,941.6L554.9,939.3L556.5,936.9L559.6,935.3L557.3,934.0L554.6,935.2L553.8,933.7L552.0,932.9L552.2,931.8L554.1,931.4L556.5,930.2L558.1,929.3L558.5,931.4L557.6,932.5L559.6,931.4L562.5,930.9L564.1,931.7L566.0,934.2L565.7,936.1L566.0,939.3L567.6,939.1L570.5,938.0L570.8,936.1L570.5,934.5L569.2,932.9L567.6,931.4L569.2,930.2L571.1,929.0L572.7,926.9L574.8,925.5L576.3,926.1L580.3,924.5L583.5,921.9L585.1,919.5L587.5,917.1L588.3,914.7L588.8,912.4L589.7,911.2L589.5,909.5L586.7,908.1L583.5,908.4L581.9,907.4L583.5,905.2L587.5,902.5L590.7,900.5L595.4,899.9L600.2,900.0L603.4,899.5L606.6,900.5L609.7,900.2L611.3,899.4L614.0,896.5L616.1,895.7L619.3,896.4L616.1,901.3L613.7,903.6L612.9,906.8L613.7,911.6L614.0,913.1L616.1,910.8L618.5,909.7L619.3,907.6L622.5,906.0L624.1,904.4L623.3,902.9L624.9,901.3L626.4,899.2L628.8,898.4L635.2,898.9L639.2,897.3L641.6,896.0L646.3,894.9L649.5,894.9L651.1,891.0Z M491.7,978.4L493.6,979.6L494.9,982.0L494.4,983.9L492.4,984.4L491.7,982.0Z M590.7,907.9L592.7,910.0L592.6,913.1L593.8,916.3L592.2,919.5L590.7,921.1L590.5,917.9L591.0,914.7L590.2,911.6Z M589.9,922.0L592.2,923.9L596.2,925.3L594.6,926.0L592.7,927.4L589.1,928.2L587.5,927.1L588.3,925.5Z M589.5,928.4L590.7,931.4L589.1,933.3L589.1,936.1L588.3,938.5L585.9,939.0L582.7,939.1L580.3,940.9L579.5,939.1L576.3,939.6L573.2,940.1L573.2,939.1L576.3,937.7L581.1,937.4L582.7,935.3L585.1,934.5L587.5,931.4L587.5,929.0Z M571.6,940.4L574.4,940.9L574.0,944.0L572.5,944.8L571.9,942.8L571.1,941.6Z M575.5,940.2L578.7,939.8L579.2,940.4L576.3,942.0Z M558.1,953.8L558.8,955.1L556.9,959.1L556.0,957.5L556.6,955.1Z M537.5,963.5L540.1,962.1L541.4,962.9L539.8,965.1L537.7,964.6Z M556.6,964.6L559.3,964.6L558.8,967.8L558.1,969.8L558.8,971.7L562.0,973.3L561.2,973.6L557.3,972.2L556.5,970.9L555.3,968.1Z M558.8,982.0L562.0,980.8L564.4,978.5L566.0,980.4L565.5,983.9L564.1,985.0L562.0,983.6L558.8,983.1Z M558.8,975.1L562.0,974.1L564.7,976.2L563.6,978.1L561.2,979.2L559.6,978.1L558.8,976.5Z M551.2,980.8L555.3,976.2L554.6,977.8L552.0,980.4Z M538.2,991.5L539.1,990.7L541.4,989.5L544.5,988.7L547.7,986.0L550.1,983.1L551.8,983.9L554.4,985.7L552.5,987.1L551.8,989.1L553.4,992.3L551.7,993.4L550.6,996.3L550.1,999.4L549.3,1000.2L546.9,999.8L544.5,999.0L541.4,998.6L540.1,997.1L539.1,994.7L538.2,993.4Z M516.4,985.0L519.9,985.7L524.3,990.3L528.6,993.1L530.2,995.2L533.2,1000.2L533.4,1003.4L531.0,1003.4L527.8,1000.5L525.4,997.9L522.3,994.2L519.9,990.7L517.5,988.4Z M555.7,992.6L557.3,991.8L562.8,991.5L563.6,992.0L560.4,993.1L556.5,993.1L558.1,995.5L560.9,995.2L558.1,996.8L559.6,1001.0L557.3,998.2L556.9,1000.2L556.3,1002.8L554.9,1002.6L554.9,999.4L553.8,998.0L555.3,993.9Z M567.6,990.4L569.2,991.5L568.4,993.1L569.7,993.4L569.2,995.2L567.6,993.1Z M573.2,995.5L575.5,994.5L577.9,995.5L579.5,999.1L582.7,996.3L587.5,997.7L590.7,998.6L593.8,999.9L597.0,1002.3L599.4,1003.4L600.2,1008.1L573.2,1008.1Z M600.2,1002.8L603.4,1002.1L605.8,1000.9L607.0,1000.7L606.6,1002.6L603.4,1004.0L600.2,1003.9Z M604.2,997.7L606.6,998.6L608.5,1000.7L607.8,1001.7L605.3,999.3Z M597.8,996.9L599.4,996.9L599.1,997.5L597.8,997.4Z M568.4,998.6L572.4,998.6L572.8,999.9L568.7,999.8Z M565.2,999.0L567.1,999.1L566.8,999.9L565.2,999.8Z M229.6,959.2L232.8,957.6L236.0,957.2L239.1,958.3L242.3,959.9L245.5,961.1L246.8,961.9L242.3,962.4L241.5,961.3L237.6,959.5L233.6,958.6L230.4,959.5Z M246.3,964.6L249.0,962.4L253.5,962.5L256.0,964.4L251.9,965.1L249.5,965.2Z M240.3,964.8L243.4,965.1L242.6,965.6L240.4,965.1Z M257.9,964.6L260.5,964.8L260.3,965.4L257.9,965.4Z M378.2,929.0L380.2,929.0L380.1,931.8L378.3,932.1L377.8,929.8Z M379.6,925.8L379.9,927.4L379.4,928.4L378.5,927.7L378.5,926.6Z M384.5,933.6L389.6,933.3L388.8,935.8L385.0,934.5Z M402.2,937.5L406.6,938.0L403.8,938.6Z M416.2,938.3L419.8,937.4L418.9,939.1L416.5,939.0Z M116.5,962.5L118.3,961.9L118.6,963.0L117.0,964.0Z M113.0,959.7L114.1,960.2L113.3,960.3Z M110.6,958.8L111.4,958.8L111.1,959.2Z"/></clipPath>
<pattern id="hatch" patternUnits="userSpaceOnUse" width="6.4" height="6.4"><path d="M-1,7.4 L7.4,-1 M-1,1 L1,-1 M5.4,7.4 L7.4,5.4" stroke="#333" stroke-width="0.75"/></pattern>
<pattern id="hatch2" patternUnits="userSpaceOnUse" width="9" height="9"><path d="M-1,10 L10,-1 M-1,1 L1,-1 M8,10 L10,8" stroke="#505050" stroke-width="0.7" stroke-dasharray="1.2 1"/></pattern>
<filter id="nz" filterUnits="userSpaceOnUse" x="78" y="851" width="574" height="151"><feTurbulence type="fractalNoise" baseFrequency="0.2 0.3" numOctaves="3" seed="11"/><feColorMatrix type="matrix" values="0 0 0 0 0  0 0 0 0 0  0 0 0 0 0  -4.5 0 0 0 2.6"/></filter>
<filter id="nz2" filterUnits="userSpaceOnUse" x="78" y="851" width="574" height="151"><feTurbulence type="fractalNoise" baseFrequency="0.2 0.3" numOctaves="3" seed="11"/><feColorMatrix type="matrix" values="0 0 0 0 0  0 0 0 0 0  0 0 0 0 0  -4.5 0 0 0 2.95"/></filter>
<mask id="nmask" maskUnits="userSpaceOnUse" x="78" y="851" width="574" height="151"><rect x="78" y="851" width="574" height="151" fill="#fff"/><rect x="78" y="851" width="574" height="151" filter="url(#nz)"/></mask>
<mask id="nmask2" maskUnits="userSpaceOnUse" x="78" y="851" width="574" height="151"><rect x="78" y="851" width="574" height="151" fill="#fff"/><rect x="78" y="851" width="574" height="151" filter="url(#nz2)"/></mask>
<path d="M97.6,890.0L100.8,884.8L105.5,882.6L115.4,881.0L123.0,881.8L134.2,882.9L140.5,883.5L148.5,884.6L153.3,883.7L159.6,883.1L166.0,883.9L173.9,884.3L181.9,885.4L189.8,885.9L196.2,885.3L202.6,886.5L208.9,886.2L212.1,885.4L214.5,880.2L217.7,883.1L220.1,885.0L224.8,885.8L229.6,883.9L234.4,883.7L235.2,887.8L230.4,888.6L227.2,891.8L220.9,893.4L215.3,897.3L214.5,900.5L217.7,903.6L224.8,905.2L229.6,906.5L233.9,906.8L234.4,910.1L238.4,912.4L239.5,907.6L242.3,905.2L241.5,902.1L240.7,898.9L241.5,894.9L247.1,895.3L251.9,897.0L254.3,900.5L257.4,901.3L261.4,898.4L262.2,898.4L267.0,904.4L271.0,906.8L273.3,908.4L276.2,911.1L274.1,912.4L269.4,914.4L263.0,914.4L259.0,914.7L255.1,917.1L252.2,919.5L256.6,916.8L262.5,916.5L261.4,918.7L262.7,920.8L267.5,921.7L269.4,920.9L263.8,923.4L259.8,924.5L258.2,923.0L253.5,924.7L252.5,926.4L253.5,927.9L250.3,928.7L247.1,929.8L247.1,931.4L244.7,932.9L243.9,935.3L244.7,937.7L242.3,939.3L239.1,941.0L236.0,943.7L235.5,946.4L236.8,949.6L237.6,951.9L236.8,954.0L234.9,953.0L233.6,950.4L232.8,947.7L230.4,946.4L228.0,945.8L224.8,945.6L222.4,946.1L222.9,947.8L220.9,947.5L217.7,947.0L214.5,947.2L210.5,949.9L209.9,953.0L209.4,957.5L209.7,959.9L211.3,962.5L212.9,964.1L214.5,965.1L217.7,964.4L220.1,963.8L220.9,961.4L221.2,960.5L224.8,959.9L226.4,959.9L225.6,963.0L224.8,964.6L224.4,967.8L224.0,968.9L228.0,968.6L231.2,969.4L232.5,970.1L232.0,974.1L231.7,976.5L234.4,979.6L236.0,980.0L238.4,978.9L240.7,979.6L241.9,980.3L243.9,978.9L244.7,977.3L246.3,976.5L248.7,975.8L250.3,974.6L251.9,976.0L250.9,977.3L251.9,978.9L253.1,975.8L256.3,977.3L259.8,977.1L263.0,977.1L266.2,977.0L267.8,978.1L269.4,980.4L272.5,982.8L277.3,984.4L282.1,986.3L283.7,987.6L285.3,991.0L285.3,993.9L288.5,995.5L293.2,996.3L298.0,998.3L302.8,999.4L305.9,1001.8L308.3,1003.4L309.1,1008.1L234.4,1008.1L236.0,1003.4L235.6,1000.2L237.6,997.9L236.8,995.5L237.6,993.1L239.1,991.5L239.9,989.9L241.5,987.6L241.9,983.6L240.7,982.0L239.9,980.8L237.6,982.0L235.2,981.2L232.8,980.8L228.8,978.1L228.3,976.5L225.6,973.3L223.2,972.5L220.1,971.7L217.7,970.9L215.3,968.6L212.1,969.0L208.9,968.2L205.7,967.0L202.6,965.4L198.6,963.8L197.0,961.4L197.0,959.1L195.4,956.7L193.0,954.3L190.6,951.9L188.2,949.6L185.4,945.6L182.4,943.7L183.0,946.4L185.4,949.6L187.5,952.7L189.4,955.6L190.6,957.3L189.5,957.0L186.7,954.6L186.3,952.7L183.2,950.4L183.0,948.8L180.6,945.8L178.5,942.4L176.3,940.1L173.0,939.3L170.9,935.9L170.0,934.0L167.9,931.4L167.1,929.8L167.3,927.4L167.6,924.2L167.6,921.1L166.5,917.4L169.2,917.1L169.2,915.8L166.0,913.9L162.0,913.1L161.2,910.8L158.0,908.4L156.4,906.8L154.1,904.4L150.1,902.1L146.9,900.8L142.9,899.2L138.9,898.9L135.0,898.6L131.8,897.6L129.4,898.6L126.2,897.3L123.4,900.2L120.6,901.3L119.9,902.9L116.7,904.4L112.7,905.5L108.7,906.8L104.7,907.1L102.7,907.6L107.1,905.7L110.3,904.4L112.7,902.4L115.1,901.0L112.7,900.8L109.5,901.0L107.1,899.2L103.9,898.4L101.9,897.3L100.8,895.7L103.2,894.0L108.7,893.4L108.7,891.8L105.5,891.6L102.4,891.8L100.0,890.7Z M224.0,878.3L229.6,877.4L237.6,877.2L243.9,878.9L250.3,880.7L255.8,882.3L258.2,884.3L259.8,886.2L266.2,888.3L263.8,891.0L262.2,892.9L261.4,894.5L258.2,894.3L253.5,893.0L249.5,891.8L247.9,890.2L248.7,888.6L249.5,887.0L247.1,885.4L242.3,883.9L239.9,882.6L236.0,883.1L229.6,883.1L224.8,882.3L222.4,880.7Z M220.1,872.3L223.2,871.2L224.8,869.6L229.6,868.0L237.6,866.4L243.9,864.9L253.5,863.6L264.6,862.8L267.8,863.6L261.4,865.2L253.5,867.2L247.1,868.8L243.9,870.1L244.7,871.5L240.7,872.6L234.4,873.1L224.8,873.1Z M210.5,868.5L213.7,866.4L218.5,865.2L226.4,866.1L224.8,868.0L221.7,869.6L215.3,870.1Z M212.1,873.1L220.1,872.3L229.6,872.5L237.6,873.1L238.4,874.4L234.4,875.8L224.8,875.9L218.5,875.6L213.7,874.8Z M175.5,880.2L177.9,878.8L183.5,877.8L189.8,878.5L194.6,877.4L198.6,878.3L196.2,879.9L202.6,881.8L204.2,883.4L199.4,884.6L193.0,885.0L185.1,885.4L178.7,884.3L181.9,882.8L177.1,882.1Z M165.2,876.4L172.3,875.9L178.7,876.6L181.1,877.8L175.5,879.4L172.3,881.0L166.0,880.1L166.8,878.3Z M178.7,873.1L185.1,872.5L189.8,872.8L196.2,873.7L197.0,874.8L193.0,875.5L186.7,875.9L180.3,875.5L183.5,874.4Z M202.6,877.0L207.3,876.9L210.5,878.0L211.3,879.4L208.9,881.0L204.9,880.7L201.8,879.1Z M212.9,876.9L220.1,876.9L221.7,878.0L217.7,879.9L214.5,879.6L212.9,878.3Z M204.2,872.3L208.9,872.6L210.5,874.2L207.3,875.1L204.2,874.2Z M227.2,890.2L231.2,889.4L235.2,891.5L236.8,892.9L232.8,893.4L228.8,892.9L226.4,891.8Z M169.2,871.7L177.1,871.3L181.1,872.9L175.5,873.9L170.8,873.6Z M211.3,874.5L216.1,874.4L216.9,875.6L212.1,875.6Z M196.2,869.1L202.6,868.5L207.3,869.4L205.7,870.7L199.4,870.9Z M208.9,869.1L213.7,869.6L212.9,870.7L208.9,870.6Z M205.7,883.9L210.5,883.2L212.9,884.6L208.9,885.6Z M232.0,894.1L236.0,894.3L236.8,894.9L232.8,895.4Z M186.7,869.6L191.4,869.3L193.0,870.4L188.2,870.7Z M270.3,918.5L275.7,915.4L276.4,912.2L273.8,913.6L272.2,916.3L270.3,917.6Z M276.5,915.5L280.5,916.3L281.0,918.7L279.7,920.1L276.5,919.5L274.9,917.4Z M160.4,913.5L166.0,914.3L168.7,917.3L166.0,916.6Z M248.7,869.9L258.2,866.9L269.4,864.1L293.2,863.0L313.9,861.7L333.0,863.3L345.7,864.9L336.2,868.0L334.6,872.0L335.4,875.1L330.6,878.3L329.8,881.5L325.0,883.4L317.1,885.8L312.3,886.2L307.5,889.4L301.2,891.0L298.0,895.7L295.6,898.9L293.2,898.6L290.0,897.6L286.9,896.0L284.5,893.4L282.1,890.2L279.7,887.0L283.7,885.0L278.9,882.3L277.3,879.9L274.1,875.9L267.8,873.6L259.8,872.8L253.5,871.7Z M326.6,890.2L329.8,888.8L336.2,889.1L340.9,888.9L343.3,890.7L340.9,892.1L336.2,893.5L331.4,892.9L328.7,892.6L329.8,891.1Z M356.8,901.1L360.0,901.1L361.6,902.7L361.9,904.4L360.0,905.2L362.3,906.8L364.0,908.4L365.1,909.2L367.5,910.5L366.9,912.7L365.6,913.5L363.2,913.6L359.2,914.3L355.7,914.7L357.6,912.7L360.0,912.4L357.6,912.0L356.5,911.7L358.1,910.0L360.0,909.5L360.0,908.4L359.2,907.1L356.8,907.3L356.1,905.2L354.9,904.0L355.6,902.4Z M355.3,906.5L356.1,908.1L355.3,910.0L354.8,911.2L352.1,912.2L348.9,912.0L348.9,909.5L349.7,908.1L351.8,906.5Z M382.3,868.0L390.2,867.2L396.6,866.4L407.7,866.9L399.8,869.6L393.4,872.0L388.7,872.0L383.9,870.1Z M445.9,880.7L452.3,882.0L455.5,882.1L452.3,879.1L455.5,876.7L461.8,873.9L469.8,872.8L474.5,872.0L468.2,874.4L457.1,877.5L453.9,879.1L449.1,880.4Z M517.5,868.8L523.9,869.9L531.8,869.6L535.0,867.2L523.9,865.3L515.9,865.6Z M436.4,866.4L452.3,864.9L463.4,865.6L460.2,867.2L444.3,867.5Z M581.1,876.7L587.5,877.5L595.4,875.1L590.7,873.6L582.7,874.4Z M78.5,881.2L81.7,880.7L83.3,881.5L80.1,881.6Z M648.7,881.2L651.1,880.7L651.1,881.6Z M78.5,884.8L83.3,884.0L86.5,886.7L91.2,887.8L94.9,889.4L92.8,890.2L89.6,891.8L86.5,891.0L83.3,890.2L78.5,890.5Z M651.1,884.8L647.9,884.0L643.1,883.4L638.4,883.1L635.2,882.9L630.4,883.7L624.1,883.5L620.9,883.9L619.3,882.3L614.5,881.5L608.2,881.6L603.4,880.7L598.6,879.4L592.2,878.8L587.5,879.1L582.7,880.7L577.9,880.7L573.2,881.8L570.0,880.4L568.4,878.6L565.2,877.5L560.4,877.8L555.7,878.3L549.3,877.2L544.5,877.2L542.9,875.9L539.8,876.7L536.6,872.8L531.8,871.0L530.7,870.9L523.9,872.8L519.1,873.6L515.9,873.4L511.1,874.4L504.8,874.7L502.4,875.9L501.6,877.0L496.8,877.5L493.6,879.1L492.0,877.5L488.9,879.4L484.9,879.1L481.7,880.2L480.1,883.9L481.7,885.4L479.3,888.6L476.1,888.1L473.0,885.4L471.4,883.9L474.5,882.6L473.8,880.7L476.1,878.0L473.8,878.3L471.4,880.7L470.6,882.3L466.6,884.2L461.0,885.0L458.6,885.4L452.3,885.4L449.1,885.8L441.1,886.7L434.8,885.4L434.0,887.8L430.0,888.6L429.2,886.5L425.2,885.4L417.3,884.0L412.5,883.4L409.3,881.5L405.4,881.2L401.4,882.1L396.6,882.8L391.8,884.3L388.7,885.8L387.1,887.0L384.7,889.4L383.1,891.3L380.7,892.6L377.5,893.8L373.5,895.4L372.8,897.3L372.8,899.7L374.0,901.3L375.9,902.1L378.3,901.8L381.5,900.5L383.1,902.1L384.7,904.4L385.2,906.0L387.4,906.2L390.2,904.9L391.0,902.9L391.5,901.3L394.7,899.7L392.6,897.8L392.3,894.9L395.8,893.4L399.0,891.3L400.6,889.7L404.6,890.0L405.0,891.3L402.2,892.9L398.7,894.5L399.0,897.3L401.4,898.9L406.2,898.3L411.7,898.7L410.1,899.5L403.0,899.9L402.2,900.8L403.3,903.2L401.4,903.6L399.0,903.2L398.2,905.2L398.5,906.5L395.8,907.8L394.2,907.1L390.2,907.9L387.1,908.6L384.7,907.8L382.3,908.4L380.7,906.8L381.5,904.4L381.5,902.7L378.3,903.5L377.5,905.2L378.5,906.8L378.8,908.6L375.9,909.2L372.8,909.7L372.0,911.1L370.4,912.5L368.0,913.1L367.3,914.4L364.8,915.2L362.9,915.7L361.9,915.2L362.4,916.9L360.0,916.6L357.3,917.3L358.1,918.2L360.8,919.0L362.4,921.1L362.9,923.4L362.4,925.0L360.0,925.2L356.8,925.0L352.1,924.7L350.0,925.8L350.6,927.4L350.8,929.8L349.7,932.5L350.8,932.9L350.8,934.5L350.5,935.3L352.9,935.0L354.8,935.6L355.9,936.9L357.6,935.8L361.6,935.8L364.0,933.7L365.1,932.6L364.3,931.4L366.1,929.5L369.9,927.6L369.9,925.7L372.0,925.0L374.3,925.7L376.7,924.5L378.8,923.6L381.0,924.4L381.5,925.8L383.9,927.4L386.3,928.7L389.5,930.4L390.2,932.5L389.8,933.7L390.4,933.7L391.8,932.1L391.8,929.8L394.2,930.4L393.4,929.6L390.2,928.2L387.1,926.3L386.4,924.9L384.4,923.4L384.4,922.2L386.6,921.5L387.9,922.3L389.5,924.2L392.6,925.8L395.8,927.4L395.8,929.0L395.7,930.1L397.4,931.4L398.2,933.3L399.3,935.6L401.1,936.1L401.7,933.9L403.0,933.4L401.1,931.4L402.2,930.2L403.8,929.1L406.2,929.3L410.1,928.7L410.9,928.7L409.3,927.4L409.3,925.0L410.6,923.4L412.5,922.2L413.6,920.3L415.2,920.1L417.3,921.1L416.5,922.0L418.1,923.4L420.5,923.0L422.9,922.2L421.3,921.4L421.3,920.3L425.2,919.3L426.0,920.1L424.4,921.4L423.2,922.3L424.4,923.1L426.8,924.2L428.4,925.2L430.8,927.4L431.0,928.2L428.4,929.0L425.2,929.1L422.1,927.9L420.5,927.4L417.3,927.4L414.9,928.7L411.2,928.8L408.5,929.8L406.9,930.4L406.5,931.5L407.7,932.9L408.2,934.5L409.3,935.6L410.9,935.9L413.3,936.4L415.7,936.6L418.1,936.6L419.7,935.6L422.1,935.6L421.7,937.7L421.3,939.3L420.8,941.3L419.8,943.5L419.4,944.3L417.3,944.7L415.7,944.7L414.1,944.0L412.5,944.3L410.9,945.0L407.7,944.3L404.6,943.9L401.4,942.4L398.2,942.0L396.6,943.2L396.6,944.8L395.0,945.9L393.4,945.1L389.5,944.0L386.3,942.0L382.3,941.3L381.0,940.1L382.3,938.0L381.5,936.1L382.3,935.3L380.7,934.8L378.3,935.5L375.1,935.3L372.8,935.6L369.6,935.6L366.4,936.1L363.2,937.4L361.6,938.3L359.2,938.2L356.4,937.1L355.3,937.2L354.0,940.1L351.3,941.2L349.4,944.8L349.2,947.2L346.5,949.6L344.1,950.4L341.7,952.7L339.4,955.9L337.8,959.9L338.6,963.0L339.0,965.4L338.1,969.4L337.1,970.6L338.1,972.5L338.2,974.4L340.1,975.7L341.7,977.3L343.6,978.9L345.7,982.0L347.3,983.1L349.7,985.3L352.9,986.9L356.8,985.8L361.6,986.3L364.8,985.0L367.2,984.1L369.6,983.8L372.0,983.9L374.3,986.8L375.9,986.8L378.3,986.6L379.9,987.7L380.4,989.9L379.9,992.3L379.6,994.7L379.9,997.1L382.3,999.4L383.6,1001.5L384.7,1003.4L384.7,1008.1L426.8,1008.1L426.8,1003.4L427.3,1001.8L428.7,998.0L430.8,996.3L433.2,993.1L435.6,991.0L438.8,988.4L441.1,986.0L443.5,982.0L445.6,977.3L446.4,975.2L444.3,975.7L441.1,976.2L436.4,977.3L434.0,975.7L433.5,973.8L432.4,972.5L430.8,970.9L428.4,968.9L426.8,966.2L425.2,964.6L424.0,960.6L423.3,958.3L421.4,955.9L419.7,952.7L418.1,949.9L416.7,946.6L417.3,948.8L419.4,949.9L420.5,947.2L421.3,949.6L422.9,952.7L424.4,955.4L426.8,959.1L427.6,961.4L430.0,964.6L432.1,967.8L432.9,970.1L433.7,973.3L434.8,973.8L436.4,973.3L438.8,972.7L441.9,971.7L444.3,970.1L447.5,968.9L448.3,967.8L450.7,967.0L453.1,965.7L455.0,964.6L456.6,963.8L457.8,961.4L459.9,958.4L458.2,956.5L455.5,956.1L454.3,954.5L454.5,952.3L453.1,953.5L451.5,955.4L449.1,955.7L446.9,955.6L446.4,952.6L444.6,952.1L443.5,950.8L441.9,948.8L441.1,946.4L441.9,946.6L444.3,946.1L445.9,948.3L448.3,950.5L451.5,951.9L454.3,950.8L455.9,953.0L458.6,953.7L462.6,954.0L465.8,954.0L470.6,953.7L472.2,955.9L473.8,957.0L475.3,958.3L476.5,957.6L474.5,958.6L476.6,960.8L480.1,960.2L480.6,962.2L480.6,964.0L481.4,967.0L482.2,969.4L483.3,971.7L483.8,973.6L484.9,975.7L486.0,978.1L487.3,980.8L488.2,981.1L489.2,979.8L490.8,979.2L491.9,977.6L492.4,973.3L492.4,969.8L493.6,968.6L495.7,967.6L498.4,965.1L500.0,963.3L502.4,962.2L503.2,959.9L505.6,959.5L507.2,959.1L508.7,958.3L510.3,958.3L511.1,960.2L511.9,961.4L513.5,963.0L515.1,966.2L514.6,968.6L515.9,968.9L519.1,967.3L520.4,970.1L521.5,972.5L521.5,977.3L521.2,980.4L521.5,981.2L522.7,983.1L524.3,985.2L525.1,988.4L526.2,989.5L529.4,991.8L530.5,991.7L529.4,989.5L529.3,986.8L527.4,984.1L525.4,983.0L524.2,980.6L522.6,979.3L523.1,976.8L523.9,974.1L524.7,972.5L525.4,973.8L527.8,974.9L528.6,976.5L531.0,977.4L531.8,979.6L531.5,980.3L533.7,979.2L534.7,977.4L537.4,976.2L538.5,974.9L538.6,972.5L537.9,969.5L535.3,967.5L533.4,965.1L532.9,963.8L534.2,961.8L535.8,959.9L537.4,959.7L539.4,960.0L540.6,961.8L541.4,959.9L544.5,958.8L546.4,958.6L550.1,957.6L552.5,955.1L554.9,953.4L555.3,951.8L556.5,950.4L558.4,948.3L558.8,946.4L557.3,945.3L558.5,944.0L556.5,941.6L554.9,939.3L556.5,936.9L559.6,935.3L557.3,934.0L554.6,935.2L553.8,933.7L552.0,932.9L552.2,931.8L554.1,931.4L556.5,930.2L558.1,929.3L558.5,931.4L557.6,932.5L559.6,931.4L562.5,930.9L564.1,931.7L566.0,934.2L565.7,936.1L566.0,939.3L567.6,939.1L570.5,938.0L570.8,936.1L570.5,934.5L569.2,932.9L567.6,931.4L569.2,930.2L571.1,929.0L572.7,926.9L574.8,925.5L576.3,926.1L580.3,924.5L583.5,921.9L585.1,919.5L587.5,917.1L588.3,914.7L588.8,912.4L589.7,911.2L589.5,909.5L586.7,908.1L583.5,908.4L581.9,907.4L583.5,905.2L587.5,902.5L590.7,900.5L595.4,899.9L600.2,900.0L603.4,899.5L606.6,900.5L609.7,900.2L611.3,899.4L614.0,896.5L616.1,895.7L619.3,896.4L616.1,901.3L613.7,903.6L612.9,906.8L613.7,911.6L614.0,913.1L616.1,910.8L618.5,909.7L619.3,907.6L622.5,906.0L624.1,904.4L623.3,902.9L624.9,901.3L626.4,899.2L628.8,898.4L635.2,898.9L639.2,897.3L641.6,896.0L646.3,894.9L649.5,894.9L651.1,891.0Z M491.7,978.4L493.6,979.6L494.9,982.0L494.4,983.9L492.4,984.4L491.7,982.0Z M590.7,907.9L592.7,910.0L592.6,913.1L593.8,916.3L592.2,919.5L590.7,921.1L590.5,917.9L591.0,914.7L590.2,911.6Z M589.9,922.0L592.2,923.9L596.2,925.3L594.6,926.0L592.7,927.4L589.1,928.2L587.5,927.1L588.3,925.5Z M589.5,928.4L590.7,931.4L589.1,933.3L589.1,936.1L588.3,938.5L585.9,939.0L582.7,939.1L580.3,940.9L579.5,939.1L576.3,939.6L573.2,940.1L573.2,939.1L576.3,937.7L581.1,937.4L582.7,935.3L585.1,934.5L587.5,931.4L587.5,929.0Z M571.6,940.4L574.4,940.9L574.0,944.0L572.5,944.8L571.9,942.8L571.1,941.6Z M575.5,940.2L578.7,939.8L579.2,940.4L576.3,942.0Z M558.1,953.8L558.8,955.1L556.9,959.1L556.0,957.5L556.6,955.1Z M537.5,963.5L540.1,962.1L541.4,962.9L539.8,965.1L537.7,964.6Z M556.6,964.6L559.3,964.6L558.8,967.8L558.1,969.8L558.8,971.7L562.0,973.3L561.2,973.6L557.3,972.2L556.5,970.9L555.3,968.1Z M558.8,982.0L562.0,980.8L564.4,978.5L566.0,980.4L565.5,983.9L564.1,985.0L562.0,983.6L558.8,983.1Z M558.8,975.1L562.0,974.1L564.7,976.2L563.6,978.1L561.2,979.2L559.6,978.1L558.8,976.5Z M551.2,980.8L555.3,976.2L554.6,977.8L552.0,980.4Z M538.2,991.5L539.1,990.7L541.4,989.5L544.5,988.7L547.7,986.0L550.1,983.1L551.8,983.9L554.4,985.7L552.5,987.1L551.8,989.1L553.4,992.3L551.7,993.4L550.6,996.3L550.1,999.4L549.3,1000.2L546.9,999.8L544.5,999.0L541.4,998.6L540.1,997.1L539.1,994.7L538.2,993.4Z M516.4,985.0L519.9,985.7L524.3,990.3L528.6,993.1L530.2,995.2L533.2,1000.2L533.4,1003.4L531.0,1003.4L527.8,1000.5L525.4,997.9L522.3,994.2L519.9,990.7L517.5,988.4Z M555.7,992.6L557.3,991.8L562.8,991.5L563.6,992.0L560.4,993.1L556.5,993.1L558.1,995.5L560.9,995.2L558.1,996.8L559.6,1001.0L557.3,998.2L556.9,1000.2L556.3,1002.8L554.9,1002.6L554.9,999.4L553.8,998.0L555.3,993.9Z M567.6,990.4L569.2,991.5L568.4,993.1L569.7,993.4L569.2,995.2L567.6,993.1Z M573.2,995.5L575.5,994.5L577.9,995.5L579.5,999.1L582.7,996.3L587.5,997.7L590.7,998.6L593.8,999.9L597.0,1002.3L599.4,1003.4L600.2,1008.1L573.2,1008.1Z M600.2,1002.8L603.4,1002.1L605.8,1000.9L607.0,1000.7L606.6,1002.6L603.4,1004.0L600.2,1003.9Z M604.2,997.7L606.6,998.6L608.5,1000.7L607.8,1001.7L605.3,999.3Z M597.8,996.9L599.4,996.9L599.1,997.5L597.8,997.4Z M568.4,998.6L572.4,998.6L572.8,999.9L568.7,999.8Z M565.2,999.0L567.1,999.1L566.8,999.9L565.2,999.8Z M229.6,959.2L232.8,957.6L236.0,957.2L239.1,958.3L242.3,959.9L245.5,961.1L246.8,961.9L242.3,962.4L241.5,961.3L237.6,959.5L233.6,958.6L230.4,959.5Z M246.3,964.6L249.0,962.4L253.5,962.5L256.0,964.4L251.9,965.1L249.5,965.2Z M240.3,964.8L243.4,965.1L242.6,965.6L240.4,965.1Z M257.9,964.6L260.5,964.8L260.3,965.4L257.9,965.4Z M378.2,929.0L380.2,929.0L380.1,931.8L378.3,932.1L377.8,929.8Z M379.6,925.8L379.9,927.4L379.4,928.4L378.5,927.7L378.5,926.6Z M384.5,933.6L389.6,933.3L388.8,935.8L385.0,934.5Z M402.2,937.5L406.6,938.0L403.8,938.6Z M416.2,938.3L419.8,937.4L418.9,939.1L416.5,939.0Z M116.5,962.5L118.3,961.9L118.6,963.0L117.0,964.0Z M113.0,959.7L114.1,960.2L113.3,960.3Z M110.6,958.8L111.4,958.8L111.1,959.2Z" fill="#c8c8c8"/>
<g clip-path="url(#lclip)">
<path d="M94.4,879.9L142.1,880.7L161.2,881.8L173.9,883.1L189.8,884.6L205.7,885.0L213.7,883.1L221.7,883.4L229.6,882.8L234.4,886.2L239.1,894.1L250.3,895.7L259.8,897.6L264.6,898.1L277.3,905.2L282.1,914.7L94.4,914.7Z" fill="#f5f0f9"/>
<path d="M94.4,879.9L142.1,880.7L161.2,881.8L173.9,883.1L189.8,884.6L205.7,885.0L213.7,883.1L221.7,883.4L229.6,882.8L234.4,886.2L239.1,894.1L250.3,895.7L259.8,897.6L264.6,898.1L277.3,905.2L282.1,914.7L94.4,914.7Z" fill="#dcc4f5" mask="url(#nmask)"/>
<path d="M103.9,879.9L142.1,880.7L161.2,881.8L173.9,883.1L173.9,893.4L161.2,892.6L150.1,891.3L142.1,890.2L126.2,888.9L113.5,887.5L105.5,883.9Z" fill="#f2f4f0"/>
<path d="M103.9,879.9L142.1,880.7L161.2,881.8L173.9,883.1L173.9,893.4L161.2,892.6L150.1,891.3L142.1,890.2L126.2,888.9L113.5,887.5L105.5,883.9Z" fill="#a8cc80" mask="url(#nmask2)"/>
<path d="M173.9,883.1L189.8,884.6L205.7,885.0L213.7,883.1L221.7,883.4L229.6,882.8L234.4,885.4L231.2,888.6L224.8,891.8L218.5,894.1L205.7,894.8L189.8,894.5L173.9,893.4Z" fill="#e8f0e0"/>
<path d="M173.9,883.1L189.8,884.6L205.7,885.0L213.7,883.1L221.7,883.4L229.6,882.8L234.4,885.4L231.2,888.6L224.8,891.8L218.5,894.1L205.7,894.8L189.8,894.5L173.9,893.4Z" fill="#94c462" mask="url(#nmask)"/>
<path d="M166.0,876.7L186.7,876.7L205.7,877.5L213.7,875.9L229.6,876.7L237.6,877.5L250.3,881.5L259.8,886.2L266.2,888.6L263.0,892.6L253.5,893.4L247.1,889.4L237.6,883.9L224.8,882.3L212.1,883.9L197.8,885.4L177.1,883.9L166.0,881.5Z" fill="#c8c8c8"/>
<path d="M166.0,876.7L186.7,876.7L205.7,877.5L213.7,875.9L229.6,876.7L237.6,877.5L250.3,881.5L259.8,886.2L266.2,888.6L263.0,892.6L253.5,893.4L247.1,889.4L237.6,883.9L224.8,882.3L212.1,883.9L197.8,885.4L177.1,883.9L166.0,881.5Z" fill="#a8cc80" mask="url(#nmask2)"/>
<path d="M94.4,884.6L100.8,885.9L110.3,889.1L126.2,893.4L142.1,896.5L158.0,897.3L173.9,896.0L189.8,895.3L205.7,895.3L215.3,895.7L221.7,902.1L229.6,905.2L237.6,905.2L239.1,894.9L250.3,894.9L259.8,898.9L266.2,902.9L277.3,909.2L285.3,919.5L280.5,922.6L269.4,924.2L259.8,925.0L253.5,927.4L248.7,928.5L243.9,929.8L237.6,930.6L229.6,931.4L221.7,931.4L213.7,931.4L205.7,932.9L199.4,936.1L194.6,936.9L189.8,935.3L186.7,932.1L181.9,929.8L177.1,928.2L172.3,928.2L167.6,926.6L164.4,925.8L142.1,914.7L94.4,914.7Z" fill="#dfb0f8"/>
<path d="M94.4,884.6L100.8,885.9L110.3,889.1L126.2,893.4L142.1,896.5L158.0,897.3L173.9,896.0L189.8,895.3L205.7,895.3L215.3,895.7L221.7,902.1L229.6,905.2L237.6,905.2L239.1,894.9L250.3,894.9L259.8,898.9L266.2,902.9L277.3,909.2L285.3,919.5L280.5,922.6L269.4,924.2L259.8,925.0L253.5,927.4L248.7,928.5L243.9,929.8L237.6,930.6L229.6,931.4L221.7,931.4L213.7,931.4L205.7,932.9L199.4,936.1L194.6,936.9L189.8,935.3L186.7,932.1L181.9,929.8L177.1,928.2L172.3,928.2L167.6,926.6L164.4,925.8L142.1,914.7L94.4,914.7Z" fill="#c250f4" mask="url(#nmask)"/>
<path d="M170.8,922.6L183.5,913.1L199.4,903.6L212.1,898.9L220.1,901.3L205.7,909.2L189.8,918.7L178.7,927.4Z" fill="#e6ccf8"/>
<path d="M170.8,922.6L183.5,913.1L199.4,903.6L212.1,898.9L220.1,901.3L205.7,909.2L189.8,918.7L178.7,927.4Z" fill="#cc80f4" mask="url(#nmask2)"/>
<path d="M256.6,898.9L266.2,902.1L275.7,908.4L274.1,912.4L266.2,913.1L259.8,910.0L256.6,905.2Z" fill="#eee0fa"/>
<path d="M256.6,898.9L266.2,902.1L275.7,908.4L274.1,912.4L266.2,913.1L259.8,910.0L256.6,905.2Z" fill="#cc88f4" mask="url(#nmask2)"/>
<path d="M251.9,903.6L259.8,904.0L260.6,906.8L253.5,907.4Z" fill="#e8f0e0"/>
<path d="M251.9,903.6L259.8,904.0L260.6,906.8L253.5,907.4Z" fill="#a8cc80" mask="url(#nmask)"/>
<path d="M76.9,883.1L97.6,883.1L97.6,898.9L76.9,898.9Z" fill="#e2bef8"/>
<path d="M76.9,883.1L97.6,883.1L97.6,898.9L76.9,898.9Z" fill="#bb4ef2" mask="url(#nmask)"/>
<path d="M325.0,887.8L345.7,887.8L345.7,894.1L325.0,894.1Z" fill="#dcb0f8"/>
<path d="M325.0,887.8L345.7,887.8L345.7,894.1L325.0,894.1Z" fill="#bb4ef2" mask="url(#nmask)"/>
<path d="M280.5,884.6L286.9,884.6L291.6,897.3L294.8,899.7L285.3,897.3L278.9,889.4Z" fill="#c8c8c8"/>
<path d="M280.5,884.6L286.9,884.6L291.6,897.3L294.8,899.7L285.3,897.3L278.9,889.4Z" fill="#c060f2" mask="url(#nmask)"/>
<path d="M452.3,872.0L508.0,870.4L523.9,875.1L539.8,895.7L542.9,906.8L539.8,917.9L515.9,919.5L500.0,919.5L476.1,914.7L460.2,906.8L452.3,895.7Z" fill="#f2e8f8"/>
<path d="M452.3,872.0L508.0,870.4L523.9,875.1L539.8,895.7L542.9,906.8L539.8,917.9L515.9,919.5L500.0,919.5L476.1,914.7L460.2,906.8L452.3,895.7Z" fill="#d08cf6" mask="url(#nmask)"/>
<path d="M371.2,879.9L409.3,879.9L420.5,882.3L436.4,883.9L447.5,883.9L457.1,883.1L460.2,889.4L465.0,895.7L469.8,902.1L476.1,906.8L484.1,910.8L492.0,913.9L500.0,915.5L504.8,916.3L496.8,917.9L492.0,924.2L484.1,926.6L476.1,928.2L468.2,928.2L460.2,926.6L452.3,925.0L444.3,924.2L441.1,927.4L444.3,933.7L438.0,936.1L428.4,935.3L422.1,935.0L417.3,932.9L415.7,929.0L410.9,927.7L406.2,927.7L399.8,926.6L395.0,925.3L388.7,922.3L383.9,921.4L375.9,922.2L374.3,919.5L377.5,913.1L379.9,908.4L377.5,902.9L371.2,902.1Z" fill="#e2b8f8"/>
<path d="M371.2,879.9L409.3,879.9L420.5,882.3L436.4,883.9L447.5,883.9L457.1,883.1L460.2,889.4L465.0,895.7L469.8,902.1L476.1,906.8L484.1,910.8L492.0,913.9L500.0,915.5L504.8,916.3L496.8,917.9L492.0,924.2L484.1,926.6L476.1,928.2L468.2,928.2L460.2,926.6L452.3,925.0L444.3,924.2L441.1,927.4L444.3,933.7L438.0,936.1L428.4,935.3L422.1,935.0L417.3,932.9L415.7,929.0L410.9,927.7L406.2,927.7L399.8,926.6L395.0,925.3L388.7,922.3L383.9,921.4L375.9,922.2L374.3,919.5L377.5,913.1L379.9,908.4L377.5,902.9L371.2,902.1Z" fill="#c458f4" mask="url(#nmask)"/>
<path d="M501.6,870.4L652.7,870.4L652.7,889.4L638.4,892.6L622.5,894.1L606.6,896.5L592.2,900.5L584.3,903.6L571.6,902.1L555.7,900.5L539.8,902.1L530.2,902.1L520.7,900.5L514.3,898.9L508.0,895.7L503.2,891.0L500.0,883.1Z" fill="#eef2ea"/>
<path d="M501.6,870.4L652.7,870.4L652.7,889.4L638.4,892.6L622.5,894.1L606.6,896.5L592.2,900.5L584.3,903.6L571.6,902.1L555.7,900.5L539.8,902.1L530.2,902.1L520.7,900.5L514.3,898.9L508.0,895.7L503.2,891.0L500.0,883.1Z" fill="#94c462" mask="url(#nmask)"/>
<path d="M523.9,870.4L652.7,870.4L652.7,885.0L635.2,884.3L619.3,883.4L603.4,882.6L587.5,881.8L571.6,881.8L555.7,880.7L539.8,879.1L523.9,876.7Z" fill="#c8c8c8"/>
<path d="M523.9,870.4L652.7,870.4L652.7,885.0L635.2,884.3L619.3,883.4L603.4,882.6L587.5,881.8L571.6,881.8L555.7,880.7L539.8,879.1L523.9,876.7Z" fill="#9cc46c" mask="url(#nmask2)"/>
<path d="M511.1,898.9L523.9,902.1L539.8,903.6L555.7,902.1L571.6,902.9L587.5,902.1L590.7,911.6L587.5,919.5L579.5,925.8L571.6,927.4L566.8,929.8L562.0,930.6L557.3,929.0L552.5,928.2L546.1,926.6L539.8,924.2L531.8,921.9L523.9,920.3L515.9,918.7L508.0,914.7Z" fill="#f4f2f5"/>
<path d="M511.1,898.9L523.9,902.1L539.8,903.6L555.7,902.1L571.6,902.9L587.5,902.1L590.7,911.6L587.5,919.5L579.5,925.8L571.6,927.4L566.8,929.8L562.0,930.6L557.3,929.0L552.5,928.2L546.1,926.6L539.8,924.2L531.8,921.9L523.9,920.3L515.9,918.7L508.0,914.7Z" fill="#c4dcae" mask="url(#nmask2)"/>
<path d="M496.8,910.0L555.7,913.1L558.8,921.1L547.7,923.4L536.6,923.4L523.9,921.9L511.1,921.9L504.8,925.0L498.4,924.2L495.2,919.5L496.8,916.3Z" fill="#f0f3ee"/>
<path d="M496.8,910.0L555.7,913.1L558.8,921.1L547.7,923.4L536.6,923.4L523.9,921.9L511.1,921.9L504.8,925.0L498.4,924.2L495.2,919.5L496.8,916.3Z" fill="#a8cc80" mask="url(#nmask2)"/>
<path d="M515.9,907.6L539.8,909.2L563.6,910.8L584.3,913.1L584.3,917.9L563.6,917.1L539.8,915.5L515.9,913.9Z" fill="#e6eede"/>
<path d="M515.9,907.6L539.8,909.2L563.6,910.8L584.3,913.1L584.3,917.9L563.6,917.1L539.8,915.5L515.9,913.9Z" fill="#98c468" mask="url(#nmask)"/>
<path d="M603.4,895.7L619.3,892.6L635.2,891.0L652.7,889.4L652.7,898.9L635.2,899.7L624.1,900.5L611.3,900.5L603.4,899.7Z" fill="#e8d0f8"/>
<path d="M603.4,895.7L619.3,892.6L635.2,891.0L652.7,889.4L652.7,898.9L635.2,899.7L624.1,900.5L611.3,900.5L603.4,899.7Z" fill="#c060f2" mask="url(#nmask)"/>
<path d="M611.3,900.5L622.5,900.5L625.7,903.6L620.9,908.4L616.1,913.1L612.1,912.4Z" fill="#e0b8f8"/>
<path d="M611.3,900.5L622.5,900.5L625.7,903.6L620.9,908.4L616.1,913.1L612.1,912.4Z" fill="#bb4ef2" mask="url(#nmask)"/>
<path d="M589.1,906.8L593.8,906.8L597.0,924.2L593.8,927.4L590.7,933.7L587.5,936.9L584.3,936.9L586.7,929.0L588.3,924.2Z" fill="#e0b8f8"/>
<path d="M589.1,906.8L593.8,906.8L597.0,924.2L593.8,927.4L590.7,933.7L587.5,936.9L584.3,936.9L586.7,929.0L588.3,924.2Z" fill="#c060f2" mask="url(#nmask)"/>
<path d="M568.4,922.6L577.9,919.5L582.7,921.1L579.5,925.8L573.2,927.4L566.8,929.8L565.2,927.4Z" fill="#ecdcf8"/>
<path d="M568.4,922.6L577.9,919.5L582.7,921.1L579.5,925.8L573.2,927.4L566.8,929.8L565.2,927.4Z" fill="#c878f4" mask="url(#nmask)"/>
<path d="M482.5,934.5L492.0,935.3L504.8,935.3L515.9,934.5L523.9,935.3L528.6,938.5L530.2,944.8L523.9,949.6L515.9,948.8L504.8,949.9L495.2,947.2L488.9,943.2L484.1,939.3Z" fill="#f2eef4"/>
<path d="M482.5,934.5L492.0,935.3L504.8,935.3L515.9,934.5L523.9,935.3L528.6,938.5L530.2,944.8L523.9,949.6L515.9,948.8L504.8,949.9L495.2,947.2L488.9,943.2L484.1,939.3Z" fill="#d8c0f0" mask="url(#nmask)"/>
<path d="M504.8,941.6L517.5,940.9L525.4,939.3L530.2,941.6L530.2,946.4L523.9,949.6L515.9,948.8L508.0,949.6L498.4,948.0L492.0,944.8L488.9,941.6Z" fill="#e0b8f8"/>
<path d="M504.8,941.6L517.5,940.9L525.4,939.3L530.2,941.6L530.2,946.4L523.9,949.6L515.9,948.8L508.0,949.6L498.4,948.0L492.0,944.8L488.9,941.6Z" fill="#bb4ef2" mask="url(#nmask)"/>
<path d="M498.4,935.6L508.0,935.3L512.7,937.2L508.0,939.3L500.0,939.3Z" fill="#eef2ea"/>
<path d="M498.4,935.6L508.0,935.3L512.7,937.2L508.0,939.3L500.0,939.3Z" fill="#b8d498" mask="url(#nmask)"/>
<path d="M471.4,929.8L476.1,926.6L485.7,925.8L495.2,924.2L504.8,923.4L511.1,924.2L508.0,926.6L498.4,927.4L490.5,929.0L485.7,931.4L484.1,935.3L480.9,936.9L476.1,936.9L471.4,934.5Z" fill="#e4c4f8"/>
<path d="M471.4,929.8L476.1,926.6L485.7,925.8L495.2,924.2L504.8,923.4L511.1,924.2L508.0,926.6L498.4,927.4L490.5,929.0L485.7,931.4L484.1,935.3L480.9,936.9L476.1,936.9L471.4,934.5Z" fill="#c060f2" mask="url(#nmask)"/>
<path d="M425.2,924.2L441.1,923.4L444.3,929.0L441.1,932.9L447.5,935.3L450.7,936.9L444.3,937.7L436.4,936.1L428.4,933.7L422.1,930.6Z" fill="#e4c4f8"/>
<path d="M425.2,924.2L441.1,923.4L444.3,929.0L441.1,932.9L447.5,935.3L450.7,936.9L444.3,937.7L436.4,936.1L428.4,933.7L422.1,930.6Z" fill="#c468f2" mask="url(#nmask)"/>
<path d="M546.1,899.7L555.7,899.7L557.3,905.2L549.3,906.0Z" fill="#e4c4f8"/>
<path d="M546.1,899.7L555.7,899.7L557.3,905.2L549.3,906.0Z" fill="#c060f2" mask="url(#nmask)"/>
<path d="M546.1,907.6L558.8,907.6L558.8,913.1L549.3,913.1Z" fill="#e4c4f8"/>
<path d="M546.1,907.6L558.8,907.6L558.8,913.1L549.3,913.1Z" fill="#c060f2" mask="url(#nmask)"/>
<path d="M576.3,901.3L587.5,902.1L587.5,910.8L577.9,910.0Z" fill="#e4c4f8"/>
<path d="M576.3,901.3L587.5,902.1L587.5,910.8L577.9,910.0Z" fill="#c060f2" mask="url(#nmask)"/>
<path d="M566.8,908.4L573.2,906.0L576.3,910.0L570.0,912.4Z" fill="#e4c4f8"/>
<path d="M566.8,908.4L573.2,906.0L576.3,910.0L570.0,912.4Z" fill="#c060f2" mask="url(#nmask)"/>
<path d="M523.9,911.6L533.4,910.0L536.6,913.1L528.6,914.7Z" fill="#e4c4f8"/>
<path d="M523.9,911.6L533.4,910.0L536.6,913.1L528.6,914.7Z" fill="#c060f2" mask="url(#nmask)"/>
<path d="M504.8,895.7L517.5,894.1L520.7,898.9L511.1,900.5Z" fill="#e4c4f8"/>
<path d="M504.8,895.7L517.5,894.1L520.7,898.9L511.1,900.5Z" fill="#c060f2" mask="url(#nmask)"/>
<path d="M97.6,889.4L110.3,891.8L126.2,895.7L142.1,899.7L161.2,901.3L177.1,900.5L197.8,898.9L213.7,901.3L224.8,905.2L237.6,906.0L250.3,906.0L266.2,908.4L269.4,914.7L259.8,921.1L253.5,925.8L245.5,929.8L234.4,930.6L213.7,930.6L197.8,934.5L186.7,930.6L170.8,927.4L150.1,911.6L126.2,903.6L97.6,903.6Z M193.0,883.1L221.7,883.1L229.6,887.8L218.5,892.6L205.7,895.7L189.8,894.1Z M371.2,881.5L412.5,881.5L428.4,884.6L452.3,884.6L463.4,885.4L476.1,889.4L492.0,894.1L504.8,898.9L511.1,903.6L515.9,910.0L508.0,916.3L496.8,917.9L492.0,922.6L484.1,925.0L476.1,926.6L460.2,925.0L444.3,924.2L439.6,927.4L441.1,932.1L428.4,933.7L422.1,930.6L415.7,927.4L406.2,927.4L396.6,925.8L388.7,921.9L383.9,921.1L375.9,921.9L374.3,918.7L379.1,908.4L377.5,902.1L371.2,901.3Z M504.8,940.1L528.6,939.3L530.2,944.8L523.9,948.8L511.1,948.0L504.8,944.8Z M611.3,897.3L625.7,897.3L625.7,910.0L616.1,913.1Z" fill="url(#hatch)"/>
<path d="M517.5,870.4L652.7,876.7L652.7,892.6L635.2,894.1L611.3,895.7L587.5,902.1L571.6,902.1L555.7,900.5L539.8,902.1L523.9,898.9L515.9,894.1L511.1,883.1Z M539.8,902.1L579.5,898.9L584.3,905.2L568.4,910.0L547.7,908.4Z" fill="url(#hatch2)"/>
</g>
<path d="M104.7,907.4L100.8,908.7L96.0,910.1L91.2,911.1L84.9,911.9L78.5,911.9 M651.1,911.6L644.7,910.8L640.0,910.1 M596.2,924.9L599.4,923.0L602.6,921.1L606.6,918.7L609.7,916.6L612.1,914.7L613.4,913.5" fill="none" stroke="#888" stroke-width="0.9" stroke-dasharray="1.8 2.6"/>
<path d="M439.1,923.0L440.4,921.7L442.7,920.1L446.7,919.5L449.4,920.3L449.1,922.2L446.4,923.4L448.8,927.4L449.1,929.0L450.7,929.8L450.4,932.9L450.5,934.8L446.9,935.6L444.3,934.7L442.7,933.3L443.5,930.2L441.1,927.4L440.4,925.8Z M457.4,920.3L462.1,920.6L460.6,923.4L458.6,924.2L457.4,922.6Z M530.2,912.0L532.6,910.6L536.6,908.4L539.0,905.7L539.4,906.2L537.4,909.2L534.2,911.1L531.0,912.5Z M481.7,920.8L484.9,919.8L490.5,920.6L490.5,921.5L484.9,921.1L482.5,922.3Z M218.5,920.0L223.2,917.1L226.4,916.8L229.6,918.7L230.4,920.3L226.4,920.3L220.9,920.1Z M225.1,927.1L225.6,924.2L226.4,921.9L229.6,921.1L228.8,922.6L227.5,925.0L227.2,927.4Z M230.4,921.4L235.2,921.2L237.6,922.6L234.9,925.5L233.6,925.5L232.0,924.2L232.3,923.0Z M232.1,927.7L236.0,926.9L239.3,926.1L238.4,926.4L235.2,928.2L232.8,928.2Z M237.9,925.3L242.3,924.7L243.6,923.9L241.5,924.2L238.4,924.9Z M209.2,914.3L207.3,911.6L208.9,908.7L211.3,910.8L211.3,913.8Z M166.0,889.4L170.8,888.3L175.5,888.9L173.1,890.5L169.2,891.0Z M178.7,897.0L182.7,896.4L188.2,894.9L186.7,896.2L182.7,897.5Z M416.5,891.8L420.2,892.1L423.7,892.7L425.2,891.3L429.2,891.6L430.0,889.4L434.0,889.1L434.8,886.2L430.0,888.4L426.0,889.2L421.3,888.8L418.1,888.3L417.6,889.4L419.7,890.2L418.1,891.0Z M412.5,897.0L416.5,897.0L417.3,898.1L414.1,899.1L413.3,898.3Z M419.7,894.5L422.1,894.9L421.3,897.0L420.2,896.5Z M415.4,994.4L418.9,994.4L420.2,995.5L418.1,998.0L416.0,997.5L415.4,995.8Z" fill="#fff"/>
<path d="M97.6,890.0L100.8,884.8L105.5,882.6L115.4,881.0L123.0,881.8L134.2,882.9L140.5,883.5L148.5,884.6L153.3,883.7L159.6,883.1L166.0,883.9L173.9,884.3L181.9,885.4L189.8,885.9L196.2,885.3L202.6,886.5L208.9,886.2L212.1,885.4L214.5,880.2L217.7,883.1L220.1,885.0L224.8,885.8L229.6,883.9L234.4,883.7L235.2,887.8L230.4,888.6L227.2,891.8L220.9,893.4L215.3,897.3L214.5,900.5L217.7,903.6L224.8,905.2L229.6,906.5L233.9,906.8L234.4,910.1L238.4,912.4L239.5,907.6L242.3,905.2L241.5,902.1L240.7,898.9L241.5,894.9L247.1,895.3L251.9,897.0L254.3,900.5L257.4,901.3L261.4,898.4L262.2,898.4L267.0,904.4L271.0,906.8L273.3,908.4L276.2,911.1L274.1,912.4L269.4,914.4L263.0,914.4L259.0,914.7L255.1,917.1L252.2,919.5L256.6,916.8L262.5,916.5L261.4,918.7L262.7,920.8L267.5,921.7L269.4,920.9L263.8,923.4L259.8,924.5L258.2,923.0L253.5,924.7L252.5,926.4L253.5,927.9L250.3,928.7L247.1,929.8L247.1,931.4L244.7,932.9L243.9,935.3L244.7,937.7L242.3,939.3L239.1,941.0L236.0,943.7L235.5,946.4L236.8,949.6L237.6,951.9L236.8,954.0L234.9,953.0L233.6,950.4L232.8,947.7L230.4,946.4L228.0,945.8L224.8,945.6L222.4,946.1L222.9,947.8L220.9,947.5L217.7,947.0L214.5,947.2L210.5,949.9L209.9,953.0L209.4,957.5L209.7,959.9L211.3,962.5L212.9,964.1L214.5,965.1L217.7,964.4L220.1,963.8L220.9,961.4L221.2,960.5L224.8,959.9L226.4,959.9L225.6,963.0L224.8,964.6L224.4,967.8L224.0,968.9L228.0,968.6L231.2,969.4L232.5,970.1L232.0,974.1L231.7,976.5L234.4,979.6L236.0,980.0L238.4,978.9L240.7,979.6L241.9,980.3L243.9,978.9L244.7,977.3L246.3,976.5L248.7,975.8L250.3,974.6L251.9,976.0L250.9,977.3L251.9,978.9L253.1,975.8L256.3,977.3L259.8,977.1L263.0,977.1L266.2,977.0L267.8,978.1L269.4,980.4L272.5,982.8L277.3,984.4L282.1,986.3L283.7,987.6L285.3,991.0L285.3,993.9L288.5,995.5L293.2,996.3L298.0,998.3L302.8,999.4L305.9,1001.8L308.3,1003.4L309.1,1008.1L234.4,1008.1L236.0,1003.4L235.6,1000.2L237.6,997.9L236.8,995.5L237.6,993.1L239.1,991.5L239.9,989.9L241.5,987.6L241.9,983.6L240.7,982.0L239.9,980.8L237.6,982.0L235.2,981.2L232.8,980.8L228.8,978.1L228.3,976.5L225.6,973.3L223.2,972.5L220.1,971.7L217.7,970.9L215.3,968.6L212.1,969.0L208.9,968.2L205.7,967.0L202.6,965.4L198.6,963.8L197.0,961.4L197.0,959.1L195.4,956.7L193.0,954.3L190.6,951.9L188.2,949.6L185.4,945.6L182.4,943.7L183.0,946.4L185.4,949.6L187.5,952.7L189.4,955.6L190.6,957.3L189.5,957.0L186.7,954.6L186.3,952.7L183.2,950.4L183.0,948.8L180.6,945.8L178.5,942.4L176.3,940.1L173.0,939.3L170.9,935.9L170.0,934.0L167.9,931.4L167.1,929.8L167.3,927.4L167.6,924.2L167.6,921.1L166.5,917.4L169.2,917.1L169.2,915.8L166.0,913.9L162.0,913.1L161.2,910.8L158.0,908.4L156.4,906.8L154.1,904.4L150.1,902.1L146.9,900.8L142.9,899.2L138.9,898.9L135.0,898.6L131.8,897.6L129.4,898.6L126.2,897.3L123.4,900.2L120.6,901.3L119.9,902.9L116.7,904.4L112.7,905.5L108.7,906.8L104.7,907.1L102.7,907.6L107.1,905.7L110.3,904.4L112.7,902.4L115.1,901.0L112.7,900.8L109.5,901.0L107.1,899.2L103.9,898.4L101.9,897.3L100.8,895.7L103.2,894.0L108.7,893.4L108.7,891.8L105.5,891.6L102.4,891.8L100.0,890.7Z M224.0,878.3L229.6,877.4L237.6,877.2L243.9,878.9L250.3,880.7L255.8,882.3L258.2,884.3L259.8,886.2L266.2,888.3L263.8,891.0L262.2,892.9L261.4,894.5L258.2,894.3L253.5,893.0L249.5,891.8L247.9,890.2L248.7,888.6L249.5,887.0L247.1,885.4L242.3,883.9L239.9,882.6L236.0,883.1L229.6,883.1L224.8,882.3L222.4,880.7Z M220.1,872.3L223.2,871.2L224.8,869.6L229.6,868.0L237.6,866.4L243.9,864.9L253.5,863.6L264.6,862.8L267.8,863.6L261.4,865.2L253.5,867.2L247.1,868.8L243.9,870.1L244.7,871.5L240.7,872.6L234.4,873.1L224.8,873.1Z M210.5,868.5L213.7,866.4L218.5,865.2L226.4,866.1L224.8,868.0L221.7,869.6L215.3,870.1Z M212.1,873.1L220.1,872.3L229.6,872.5L237.6,873.1L238.4,874.4L234.4,875.8L224.8,875.9L218.5,875.6L213.7,874.8Z M175.5,880.2L177.9,878.8L183.5,877.8L189.8,878.5L194.6,877.4L198.6,878.3L196.2,879.9L202.6,881.8L204.2,883.4L199.4,884.6L193.0,885.0L185.1,885.4L178.7,884.3L181.9,882.8L177.1,882.1Z M165.2,876.4L172.3,875.9L178.7,876.6L181.1,877.8L175.5,879.4L172.3,881.0L166.0,880.1L166.8,878.3Z M178.7,873.1L185.1,872.5L189.8,872.8L196.2,873.7L197.0,874.8L193.0,875.5L186.7,875.9L180.3,875.5L183.5,874.4Z M202.6,877.0L207.3,876.9L210.5,878.0L211.3,879.4L208.9,881.0L204.9,880.7L201.8,879.1Z M212.9,876.9L220.1,876.9L221.7,878.0L217.7,879.9L214.5,879.6L212.9,878.3Z M204.2,872.3L208.9,872.6L210.5,874.2L207.3,875.1L204.2,874.2Z M227.2,890.2L231.2,889.4L235.2,891.5L236.8,892.9L232.8,893.4L228.8,892.9L226.4,891.8Z M169.2,871.7L177.1,871.3L181.1,872.9L175.5,873.9L170.8,873.6Z M211.3,874.5L216.1,874.4L216.9,875.6L212.1,875.6Z M196.2,869.1L202.6,868.5L207.3,869.4L205.7,870.7L199.4,870.9Z M208.9,869.1L213.7,869.6L212.9,870.7L208.9,870.6Z M205.7,883.9L210.5,883.2L212.9,884.6L208.9,885.6Z M232.0,894.1L236.0,894.3L236.8,894.9L232.8,895.4Z M186.7,869.6L191.4,869.3L193.0,870.4L188.2,870.7Z M270.3,918.5L275.7,915.4L276.4,912.2L273.8,913.6L272.2,916.3L270.3,917.6Z M276.5,915.5L280.5,916.3L281.0,918.7L279.7,920.1L276.5,919.5L274.9,917.4Z M160.4,913.5L166.0,914.3L168.7,917.3L166.0,916.6Z M248.7,869.9L258.2,866.9L269.4,864.1L293.2,863.0L313.9,861.7L333.0,863.3L345.7,864.9L336.2,868.0L334.6,872.0L335.4,875.1L330.6,878.3L329.8,881.5L325.0,883.4L317.1,885.8L312.3,886.2L307.5,889.4L301.2,891.0L298.0,895.7L295.6,898.9L293.2,898.6L290.0,897.6L286.9,896.0L284.5,893.4L282.1,890.2L279.7,887.0L283.7,885.0L278.9,882.3L277.3,879.9L274.1,875.9L267.8,873.6L259.8,872.8L253.5,871.7Z M326.6,890.2L329.8,888.8L336.2,889.1L340.9,888.9L343.3,890.7L340.9,892.1L336.2,893.5L331.4,892.9L328.7,892.6L329.8,891.1Z M356.8,901.1L360.0,901.1L361.6,902.7L361.9,904.4L360.0,905.2L362.3,906.8L364.0,908.4L365.1,909.2L367.5,910.5L366.9,912.7L365.6,913.5L363.2,913.6L359.2,914.3L355.7,914.7L357.6,912.7L360.0,912.4L357.6,912.0L356.5,911.7L358.1,910.0L360.0,909.5L360.0,908.4L359.2,907.1L356.8,907.3L356.1,905.2L354.9,904.0L355.6,902.4Z M355.3,906.5L356.1,908.1L355.3,910.0L354.8,911.2L352.1,912.2L348.9,912.0L348.9,909.5L349.7,908.1L351.8,906.5Z M382.3,868.0L390.2,867.2L396.6,866.4L407.7,866.9L399.8,869.6L393.4,872.0L388.7,872.0L383.9,870.1Z M445.9,880.7L452.3,882.0L455.5,882.1L452.3,879.1L455.5,876.7L461.8,873.9L469.8,872.8L474.5,872.0L468.2,874.4L457.1,877.5L453.9,879.1L449.1,880.4Z M517.5,868.8L523.9,869.9L531.8,869.6L535.0,867.2L523.9,865.3L515.9,865.6Z M436.4,866.4L452.3,864.9L463.4,865.6L460.2,867.2L444.3,867.5Z M581.1,876.7L587.5,877.5L595.4,875.1L590.7,873.6L582.7,874.4Z M78.5,881.2L81.7,880.7L83.3,881.5L80.1,881.6Z M648.7,881.2L651.1,880.7L651.1,881.6Z M78.5,884.8L83.3,884.0L86.5,886.7L91.2,887.8L94.9,889.4L92.8,890.2L89.6,891.8L86.5,891.0L83.3,890.2L78.5,890.5Z M651.1,884.8L647.9,884.0L643.1,883.4L638.4,883.1L635.2,882.9L630.4,883.7L624.1,883.5L620.9,883.9L619.3,882.3L614.5,881.5L608.2,881.6L603.4,880.7L598.6,879.4L592.2,878.8L587.5,879.1L582.7,880.7L577.9,880.7L573.2,881.8L570.0,880.4L568.4,878.6L565.2,877.5L560.4,877.8L555.7,878.3L549.3,877.2L544.5,877.2L542.9,875.9L539.8,876.7L536.6,872.8L531.8,871.0L530.7,870.9L523.9,872.8L519.1,873.6L515.9,873.4L511.1,874.4L504.8,874.7L502.4,875.9L501.6,877.0L496.8,877.5L493.6,879.1L492.0,877.5L488.9,879.4L484.9,879.1L481.7,880.2L480.1,883.9L481.7,885.4L479.3,888.6L476.1,888.1L473.0,885.4L471.4,883.9L474.5,882.6L473.8,880.7L476.1,878.0L473.8,878.3L471.4,880.7L470.6,882.3L466.6,884.2L461.0,885.0L458.6,885.4L452.3,885.4L449.1,885.8L441.1,886.7L434.8,885.4L434.0,887.8L430.0,888.6L429.2,886.5L425.2,885.4L417.3,884.0L412.5,883.4L409.3,881.5L405.4,881.2L401.4,882.1L396.6,882.8L391.8,884.3L388.7,885.8L387.1,887.0L384.7,889.4L383.1,891.3L380.7,892.6L377.5,893.8L373.5,895.4L372.8,897.3L372.8,899.7L374.0,901.3L375.9,902.1L378.3,901.8L381.5,900.5L383.1,902.1L384.7,904.4L385.2,906.0L387.4,906.2L390.2,904.9L391.0,902.9L391.5,901.3L394.7,899.7L392.6,897.8L392.3,894.9L395.8,893.4L399.0,891.3L400.6,889.7L404.6,890.0L405.0,891.3L402.2,892.9L398.7,894.5L399.0,897.3L401.4,898.9L406.2,898.3L411.7,898.7L410.1,899.5L403.0,899.9L402.2,900.8L403.3,903.2L401.4,903.6L399.0,903.2L398.2,905.2L398.5,906.5L395.8,907.8L394.2,907.1L390.2,907.9L387.1,908.6L384.7,907.8L382.3,908.4L380.7,906.8L381.5,904.4L381.5,902.7L378.3,903.5L377.5,905.2L378.5,906.8L378.8,908.6L375.9,909.2L372.8,909.7L372.0,911.1L370.4,912.5L368.0,913.1L367.3,914.4L364.8,915.2L362.9,915.7L361.9,915.2L362.4,916.9L360.0,916.6L357.3,917.3L358.1,918.2L360.8,919.0L362.4,921.1L362.9,923.4L362.4,925.0L360.0,925.2L356.8,925.0L352.1,924.7L350.0,925.8L350.6,927.4L350.8,929.8L349.7,932.5L350.8,932.9L350.8,934.5L350.5,935.3L352.9,935.0L354.8,935.6L355.9,936.9L357.6,935.8L361.6,935.8L364.0,933.7L365.1,932.6L364.3,931.4L366.1,929.5L369.9,927.6L369.9,925.7L372.0,925.0L374.3,925.7L376.7,924.5L378.8,923.6L381.0,924.4L381.5,925.8L383.9,927.4L386.3,928.7L389.5,930.4L390.2,932.5L389.8,933.7L390.4,933.7L391.8,932.1L391.8,929.8L394.2,930.4L393.4,929.6L390.2,928.2L387.1,926.3L386.4,924.9L384.4,923.4L384.4,922.2L386.6,921.5L387.9,922.3L389.5,924.2L392.6,925.8L395.8,927.4L395.8,929.0L395.7,930.1L397.4,931.4L398.2,933.3L399.3,935.6L401.1,936.1L401.7,933.9L403.0,933.4L401.1,931.4L402.2,930.2L403.8,929.1L406.2,929.3L410.1,928.7L410.9,928.7L409.3,927.4L409.3,925.0L410.6,923.4L412.5,922.2L413.6,920.3L415.2,920.1L417.3,921.1L416.5,922.0L418.1,923.4L420.5,923.0L422.9,922.2L421.3,921.4L421.3,920.3L425.2,919.3L426.0,920.1L424.4,921.4L423.2,922.3L424.4,923.1L426.8,924.2L428.4,925.2L430.8,927.4L431.0,928.2L428.4,929.0L425.2,929.1L422.1,927.9L420.5,927.4L417.3,927.4L414.9,928.7L411.2,928.8L408.5,929.8L406.9,930.4L406.5,931.5L407.7,932.9L408.2,934.5L409.3,935.6L410.9,935.9L413.3,936.4L415.7,936.6L418.1,936.6L419.7,935.6L422.1,935.6L421.7,937.7L421.3,939.3L420.8,941.3L419.8,943.5L419.4,944.3L417.3,944.7L415.7,944.7L414.1,944.0L412.5,944.3L410.9,945.0L407.7,944.3L404.6,943.9L401.4,942.4L398.2,942.0L396.6,943.2L396.6,944.8L395.0,945.9L393.4,945.1L389.5,944.0L386.3,942.0L382.3,941.3L381.0,940.1L382.3,938.0L381.5,936.1L382.3,935.3L380.7,934.8L378.3,935.5L375.1,935.3L372.8,935.6L369.6,935.6L366.4,936.1L363.2,937.4L361.6,938.3L359.2,938.2L356.4,937.1L355.3,937.2L354.0,940.1L351.3,941.2L349.4,944.8L349.2,947.2L346.5,949.6L344.1,950.4L341.7,952.7L339.4,955.9L337.8,959.9L338.6,963.0L339.0,965.4L338.1,969.4L337.1,970.6L338.1,972.5L338.2,974.4L340.1,975.7L341.7,977.3L343.6,978.9L345.7,982.0L347.3,983.1L349.7,985.3L352.9,986.9L356.8,985.8L361.6,986.3L364.8,985.0L367.2,984.1L369.6,983.8L372.0,983.9L374.3,986.8L375.9,986.8L378.3,986.6L379.9,987.7L380.4,989.9L379.9,992.3L379.6,994.7L379.9,997.1L382.3,999.4L383.6,1001.5L384.7,1003.4L384.7,1008.1L426.8,1008.1L426.8,1003.4L427.3,1001.8L428.7,998.0L430.8,996.3L433.2,993.1L435.6,991.0L438.8,988.4L441.1,986.0L443.5,982.0L445.6,977.3L446.4,975.2L444.3,975.7L441.1,976.2L436.4,977.3L434.0,975.7L433.5,973.8L432.4,972.5L430.8,970.9L428.4,968.9L426.8,966.2L425.2,964.6L424.0,960.6L423.3,958.3L421.4,955.9L419.7,952.7L418.1,949.9L416.7,946.6L417.3,948.8L419.4,949.9L420.5,947.2L421.3,949.6L422.9,952.7L424.4,955.4L426.8,959.1L427.6,961.4L430.0,964.6L432.1,967.8L432.9,970.1L433.7,973.3L434.8,973.8L436.4,973.3L438.8,972.7L441.9,971.7L444.3,970.1L447.5,968.9L448.3,967.8L450.7,967.0L453.1,965.7L455.0,964.6L456.6,963.8L457.8,961.4L459.9,958.4L458.2,956.5L455.5,956.1L454.3,954.5L454.5,952.3L453.1,953.5L451.5,955.4L449.1,955.7L446.9,955.6L446.4,952.6L444.6,952.1L443.5,950.8L441.9,948.8L441.1,946.4L441.9,946.6L444.3,946.1L445.9,948.3L448.3,950.5L451.5,951.9L454.3,950.8L455.9,953.0L458.6,953.7L462.6,954.0L465.8,954.0L470.6,953.7L472.2,955.9L473.8,957.0L475.3,958.3L476.5,957.6L474.5,958.6L476.6,960.8L480.1,960.2L480.6,962.2L480.6,964.0L481.4,967.0L482.2,969.4L483.3,971.7L483.8,973.6L484.9,975.7L486.0,978.1L487.3,980.8L488.2,981.1L489.2,979.8L490.8,979.2L491.9,977.6L492.4,973.3L492.4,969.8L493.6,968.6L495.7,967.6L498.4,965.1L500.0,963.3L502.4,962.2L503.2,959.9L505.6,959.5L507.2,959.1L508.7,958.3L510.3,958.3L511.1,960.2L511.9,961.4L513.5,963.0L515.1,966.2L514.6,968.6L515.9,968.9L519.1,967.3L520.4,970.1L521.5,972.5L521.5,977.3L521.2,980.4L521.5,981.2L522.7,983.1L524.3,985.2L525.1,988.4L526.2,989.5L529.4,991.8L530.5,991.7L529.4,989.5L529.3,986.8L527.4,984.1L525.4,983.0L524.2,980.6L522.6,979.3L523.1,976.8L523.9,974.1L524.7,972.5L525.4,973.8L527.8,974.9L528.6,976.5L531.0,977.4L531.8,979.6L531.5,980.3L533.7,979.2L534.7,977.4L537.4,976.2L538.5,974.9L538.6,972.5L537.9,969.5L535.3,967.5L533.4,965.1L532.9,963.8L534.2,961.8L535.8,959.9L537.4,959.7L539.4,960.0L540.6,961.8L541.4,959.9L544.5,958.8L546.4,958.6L550.1,957.6L552.5,955.1L554.9,953.4L555.3,951.8L556.5,950.4L558.4,948.3L558.8,946.4L557.3,945.3L558.5,944.0L556.5,941.6L554.9,939.3L556.5,936.9L559.6,935.3L557.3,934.0L554.6,935.2L553.8,933.7L552.0,932.9L552.2,931.8L554.1,931.4L556.5,930.2L558.1,929.3L558.5,931.4L557.6,932.5L559.6,931.4L562.5,930.9L564.1,931.7L566.0,934.2L565.7,936.1L566.0,939.3L567.6,939.1L570.5,938.0L570.8,936.1L570.5,934.5L569.2,932.9L567.6,931.4L569.2,930.2L571.1,929.0L572.7,926.9L574.8,925.5L576.3,926.1L580.3,924.5L583.5,921.9L585.1,919.5L587.5,917.1L588.3,914.7L588.8,912.4L589.7,911.2L589.5,909.5L586.7,908.1L583.5,908.4L581.9,907.4L583.5,905.2L587.5,902.5L590.7,900.5L595.4,899.9L600.2,900.0L603.4,899.5L606.6,900.5L609.7,900.2L611.3,899.4L614.0,896.5L616.1,895.7L619.3,896.4L616.1,901.3L613.7,903.6L612.9,906.8L613.7,911.6L614.0,913.1L616.1,910.8L618.5,909.7L619.3,907.6L622.5,906.0L624.1,904.4L623.3,902.9L624.9,901.3L626.4,899.2L628.8,898.4L635.2,898.9L639.2,897.3L641.6,896.0L646.3,894.9L649.5,894.9L651.1,891.0Z M491.7,978.4L493.6,979.6L494.9,982.0L494.4,983.9L492.4,984.4L491.7,982.0Z M590.7,907.9L592.7,910.0L592.6,913.1L593.8,916.3L592.2,919.5L590.7,921.1L590.5,917.9L591.0,914.7L590.2,911.6Z M589.9,922.0L592.2,923.9L596.2,925.3L594.6,926.0L592.7,927.4L589.1,928.2L587.5,927.1L588.3,925.5Z M589.5,928.4L590.7,931.4L589.1,933.3L589.1,936.1L588.3,938.5L585.9,939.0L582.7,939.1L580.3,940.9L579.5,939.1L576.3,939.6L573.2,940.1L573.2,939.1L576.3,937.7L581.1,937.4L582.7,935.3L585.1,934.5L587.5,931.4L587.5,929.0Z M571.6,940.4L574.4,940.9L574.0,944.0L572.5,944.8L571.9,942.8L571.1,941.6Z M575.5,940.2L578.7,939.8L579.2,940.4L576.3,942.0Z M558.1,953.8L558.8,955.1L556.9,959.1L556.0,957.5L556.6,955.1Z M537.5,963.5L540.1,962.1L541.4,962.9L539.8,965.1L537.7,964.6Z M556.6,964.6L559.3,964.6L558.8,967.8L558.1,969.8L558.8,971.7L562.0,973.3L561.2,973.6L557.3,972.2L556.5,970.9L555.3,968.1Z M558.8,982.0L562.0,980.8L564.4,978.5L566.0,980.4L565.5,983.9L564.1,985.0L562.0,983.6L558.8,983.1Z M558.8,975.1L562.0,974.1L564.7,976.2L563.6,978.1L561.2,979.2L559.6,978.1L558.8,976.5Z M551.2,980.8L555.3,976.2L554.6,977.8L552.0,980.4Z M538.2,991.5L539.1,990.7L541.4,989.5L544.5,988.7L547.7,986.0L550.1,983.1L551.8,983.9L554.4,985.7L552.5,987.1L551.8,989.1L553.4,992.3L551.7,993.4L550.6,996.3L550.1,999.4L549.3,1000.2L546.9,999.8L544.5,999.0L541.4,998.6L540.1,997.1L539.1,994.7L538.2,993.4Z M516.4,985.0L519.9,985.7L524.3,990.3L528.6,993.1L530.2,995.2L533.2,1000.2L533.4,1003.4L531.0,1003.4L527.8,1000.5L525.4,997.9L522.3,994.2L519.9,990.7L517.5,988.4Z M555.7,992.6L557.3,991.8L562.8,991.5L563.6,992.0L560.4,993.1L556.5,993.1L558.1,995.5L560.9,995.2L558.1,996.8L559.6,1001.0L557.3,998.2L556.9,1000.2L556.3,1002.8L554.9,1002.6L554.9,999.4L553.8,998.0L555.3,993.9Z M567.6,990.4L569.2,991.5L568.4,993.1L569.7,993.4L569.2,995.2L567.6,993.1Z M573.2,995.5L575.5,994.5L577.9,995.5L579.5,999.1L582.7,996.3L587.5,997.7L590.7,998.6L593.8,999.9L597.0,1002.3L599.4,1003.4L600.2,1008.1L573.2,1008.1Z M600.2,1002.8L603.4,1002.1L605.8,1000.9L607.0,1000.7L606.6,1002.6L603.4,1004.0L600.2,1003.9Z M604.2,997.7L606.6,998.6L608.5,1000.7L607.8,1001.7L605.3,999.3Z M597.8,996.9L599.4,996.9L599.1,997.5L597.8,997.4Z M568.4,998.6L572.4,998.6L572.8,999.9L568.7,999.8Z M565.2,999.0L567.1,999.1L566.8,999.9L565.2,999.8Z M229.6,959.2L232.8,957.6L236.0,957.2L239.1,958.3L242.3,959.9L245.5,961.1L246.8,961.9L242.3,962.4L241.5,961.3L237.6,959.5L233.6,958.6L230.4,959.5Z M246.3,964.6L249.0,962.4L253.5,962.5L256.0,964.4L251.9,965.1L249.5,965.2Z M240.3,964.8L243.4,965.1L242.6,965.6L240.4,965.1Z M257.9,964.6L260.5,964.8L260.3,965.4L257.9,965.4Z M378.2,929.0L380.2,929.0L380.1,931.8L378.3,932.1L377.8,929.8Z M379.6,925.8L379.9,927.4L379.4,928.4L378.5,927.7L378.5,926.6Z M384.5,933.6L389.6,933.3L388.8,935.8L385.0,934.5Z M402.2,937.5L406.6,938.0L403.8,938.6Z M416.2,938.3L419.8,937.4L418.9,939.1L416.5,939.0Z M116.5,962.5L118.3,961.9L118.6,963.0L117.0,964.0Z M113.0,959.7L114.1,960.2L113.3,960.3Z M110.6,958.8L111.4,958.8L111.1,959.2Z M439.1,923.0L440.4,921.7L442.7,920.1L446.7,919.5L449.4,920.3L449.1,922.2L446.4,923.4L448.8,927.4L449.1,929.0L450.7,929.8L450.4,932.9L450.5,934.8L446.9,935.6L444.3,934.7L442.7,933.3L443.5,930.2L441.1,927.4L440.4,925.8Z M457.4,920.3L462.1,920.6L460.6,923.4L458.6,924.2L457.4,922.6Z M530.2,912.0L532.6,910.6L536.6,908.4L539.0,905.7L539.4,906.2L537.4,909.2L534.2,911.1L531.0,912.5Z M481.7,920.8L484.9,919.8L490.5,920.6L490.5,921.5L484.9,921.1L482.5,922.3Z M218.5,920.0L223.2,917.1L226.4,916.8L229.6,918.7L230.4,920.3L226.4,920.3L220.9,920.1Z M225.1,927.1L225.6,924.2L226.4,921.9L229.6,921.1L228.8,922.6L227.5,925.0L227.2,927.4Z M230.4,921.4L235.2,921.2L237.6,922.6L234.9,925.5L233.6,925.5L232.0,924.2L232.3,923.0Z M232.1,927.7L236.0,926.9L239.3,926.1L238.4,926.4L235.2,928.2L232.8,928.2Z M237.9,925.3L242.3,924.7L243.6,923.9L241.5,924.2L238.4,924.9Z M209.2,914.3L207.3,911.6L208.9,908.7L211.3,910.8L211.3,913.8Z M166.0,889.4L170.8,888.3L175.5,888.9L173.1,890.5L169.2,891.0Z M178.7,897.0L182.7,896.4L188.2,894.9L186.7,896.2L182.7,897.5Z M416.5,891.8L420.2,892.1L423.7,892.7L425.2,891.3L429.2,891.6L430.0,889.4L434.0,889.1L434.8,886.2L430.0,888.4L426.0,889.2L421.3,888.8L418.1,888.3L417.6,889.4L419.7,890.2L418.1,891.0Z M412.5,897.0L416.5,897.0L417.3,898.1L414.1,899.1L413.3,898.3Z M419.7,894.5L422.1,894.9L421.3,897.0L420.2,896.5Z M415.4,994.4L418.9,994.4L420.2,995.5L418.1,998.0L416.0,997.5L415.4,995.8Z" fill="none" stroke="#686868" stroke-width="0.65" stroke-linejoin="round"/>
</g>
<rect x="78.5" y="851.4" width="572.6" height="150.4" fill="none" stroke="#555" stroke-width="1.1"/>
<text x="71" y="861.6" text-anchor="end" class="t18">90<tspan dy="-9" dx="0.6" font-size="14">o</tspan><tspan dy="9" dx="0.8">N</tspan></text>
<text x="71" y="909.1" text-anchor="end" class="t18">60<tspan dy="-9" dx="0.6" font-size="14">o</tspan><tspan dy="9" dx="0.8">N</tspan></text>
<text x="71" y="956.6" text-anchor="end" class="t18">30<tspan dy="-9" dx="0.6" font-size="14">o</tspan><tspan dy="9" dx="0.8">N</tspan></text>
<text x="71" y="1004.1" text-anchor="end" class="t18">0<tspan dy="-9" dx="0.6" font-size="14">o</tspan></text>
<text x="78.5" y="1032.6" text-anchor="middle" class="t18">180<tspan dy="-9" dx="0.6" font-size="14">o</tspan></text>
<text x="173.9" y="1032.6" text-anchor="middle" class="t18">120<tspan dy="-9" dx="0.6" font-size="14">o</tspan><tspan dy="9" dx="0.8">W</tspan></text>
<text x="269.4" y="1032.6" text-anchor="middle" class="t18">60<tspan dy="-9" dx="0.6" font-size="14">o</tspan><tspan dy="9" dx="0.8">W</tspan></text>
<text x="364.8" y="1027" text-anchor="middle" class="t18">0</text>
<text x="460.2" y="1032.6" text-anchor="middle" class="t18">60<tspan dy="-9" dx="0.6" font-size="14">o</tspan><tspan dy="9" dx="0.8">E</tspan></text>
<text x="555.7" y="1032.6" text-anchor="middle" class="t18">120<tspan dy="-9" dx="0.6" font-size="14">o</tspan><tspan dy="9" dx="0.8">E</tspan></text>
<text x="651.1" y="1032.6" text-anchor="middle" class="t18">180<tspan dy="-9" dx="0.6" font-size="14">o</tspan></text>
<path d="M101.29,859.61 A7.2 8.9 0 1 0 102.3,870.8 L102.5,869.6 A4.7 6.9 0 1 1 99.9,858.9 Z" fill="#000"/><circle cx="100.6" cy="861.3" r="2.8" fill="#000"/>
<text x="45.5" y="1063" class="t19">Decadal trends in future snow drought duration (D4) under SSP245 (days decade<tspan dy="-8" font-size="13">-1</tspan><tspan dy="8">)</tspan></text>
<linearGradient id="cb" x1="0" x2="1" y1="0" y2="0"><stop offset="0" stop-color="#78b430"/><stop offset="0.1" stop-color="#8cc050"/><stop offset="0.2" stop-color="#a6ce78"/><stop offset="0.3" stop-color="#c2dca8"/><stop offset="0.4" stop-color="#d8e6cc"/><stop offset="0.4999" stop-color="#ececec"/><stop offset="0.5001" stop-color="#ffffff"/><stop offset="0.6" stop-color="#f0e2fa"/><stop offset="0.7" stop-color="#e6c8fa"/><stop offset="0.8" stop-color="#daa8fa"/><stop offset="0.9" stop-color="#cc84fa"/><stop offset="1" stop-color="#bd48f6"/></linearGradient>
<rect x="78.2" y="1073.3" width="573.0" height="19.0" fill="url(#cb)" stroke="#555" stroke-width="1.1"/>
<text x="78.2" y="1114" text-anchor="middle" class="t16">-5</text>
<line x1="135.5" y1="1086.8" x2="135.5" y2="1092.3" stroke="#555" stroke-width="1.1"/>
<text x="135.5" y="1114" text-anchor="middle" class="t16">-4</text>
<line x1="192.8" y1="1086.8" x2="192.8" y2="1092.3" stroke="#555" stroke-width="1.1"/>
<text x="192.8" y="1114" text-anchor="middle" class="t16">-3</text>
<line x1="250.1" y1="1086.8" x2="250.1" y2="1092.3" stroke="#555" stroke-width="1.1"/>
<text x="250.1" y="1114" text-anchor="middle" class="t16">-2</text>
<line x1="307.4" y1="1086.8" x2="307.4" y2="1092.3" stroke="#555" stroke-width="1.1"/>
<text x="307.4" y="1114" text-anchor="middle" class="t16">-1</text>
<line x1="364.7" y1="1086.8" x2="364.7" y2="1092.3" stroke="#555" stroke-width="1.1"/>
<text x="364.7" y="1114" text-anchor="middle" class="t16">0</text>
<line x1="422.0" y1="1086.8" x2="422.0" y2="1092.3" stroke="#555" stroke-width="1.1"/>
<text x="422.0" y="1114" text-anchor="middle" class="t16">1</text>
<line x1="479.3" y1="1086.8" x2="479.3" y2="1092.3" stroke="#555" stroke-width="1.1"/>
<text x="479.3" y="1114" text-anchor="middle" class="t16">2</text>
<line x1="536.6" y1="1086.8" x2="536.6" y2="1092.3" stroke="#555" stroke-width="1.1"/>
<text x="536.6" y="1114" text-anchor="middle" class="t16">3</text>
<line x1="593.9" y1="1086.8" x2="593.9" y2="1092.3" stroke="#555" stroke-width="1.1"/>
<text x="593.9" y="1114" text-anchor="middle" class="t16">4</text>
<text x="651.2" y="1114" text-anchor="middle" class="t16">5</text>
</svg>
</body></html>
